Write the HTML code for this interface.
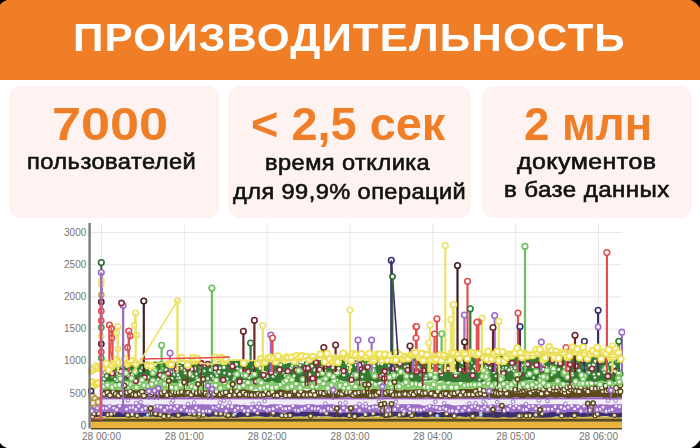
<!DOCTYPE html>
<html><head><meta charset="utf-8">
<style>
html,body{margin:0;padding:0;}
body{width:700px;height:448px;overflow:hidden;background:#fff;position:relative;font-family:"Liberation Sans",sans-serif;}
.hdr{position:absolute;left:0;top:0;width:700px;height:80px;background:#EF7E27;}
.card{position:absolute;top:86px;height:131.5px;background:#FEF3F1;border-radius:12px;}
.t{position:absolute;white-space:nowrap;transform-origin:0 0;}
.h{color:#fff;font-weight:bold;font-size:38px;line-height:40px;letter-spacing:1px;}
.b{color:#EF7E27;font-weight:bold;font-size:47px;line-height:46px;letter-spacing:0px;}
.s{color:#111;font-size:22px;line-height:22px;letter-spacing:0.4px;-webkit-text-stroke:0.6px #111;}
svg{position:absolute;left:0;top:0;}
</style></head><body>
<div class="hdr"></div>
<div class="card" style="left:9px;width:210px;"></div>
<div class="card" style="left:228px;width:243px;"></div>
<div class="card" style="left:482px;width:210px;"></div>
<div class="t h" style="left:72.78px;top:18px;transform:scaleX(1.1116)">ПРОИЗВОДИТЕЛЬНОСТЬ</div>
<div class="t b" style="left:52.31px;top:100.5px;transform:scaleX(1.1109)">7000</div>
<div class="t b" style="left:250.50px;top:100.5px;transform:scaleX(0.9979)">&lt; 2,5 сек</div>
<div class="t b" style="left:524.03px;top:100.5px;transform:scaleX(0.9703)">2 млн</div>
<div class="t s" style="left:26.92px;top:151px;transform:scaleX(1.0774)">пользователей</div>
<div class="t s" style="left:264.96px;top:152px;transform:scaleX(1.0745)">время отклика</div>
<div class="t s" style="left:232.52px;top:181px;transform:scaleX(1.0722)">для 99,9% операций</div>
<div class="t s" style="left:517.49px;top:151px;transform:scaleX(1.1344)">документов</div>
<div class="t s" style="left:504.38px;top:179px;transform:scaleX(1.0947)">в базе данных</div>
<svg width="700" height="448" viewBox="0 0 700 448"><defs><filter id="bl" x="0" y="0" width="1" height="1"><feGaussianBlur stdDeviation="0.45"/></filter></defs>
  <g stroke="#e8e8e8" stroke-width="1">
    <line x1="90" y1="232.5" x2="622" y2="232.5"/>
    <line x1="90" y1="264.7" x2="622" y2="264.7"/>
    <line x1="90" y1="296.9" x2="622" y2="296.9"/>
    <line x1="90" y1="329.1" x2="622" y2="329.1"/>
    <line x1="90" y1="361.3" x2="622" y2="361.3"/>
    <line x1="90" y1="393.5" x2="622" y2="393.5"/>
    <line x1="101.5" y1="223" x2="101.5" y2="428"/>
    <line x1="184.3" y1="223" x2="184.3" y2="428"/>
    <line x1="267.1" y1="223" x2="267.1" y2="428"/>
    <line x1="350" y1="223" x2="350" y2="428"/>
    <line x1="432.8" y1="223" x2="432.8" y2="428"/>
    <line x1="515.7" y1="223" x2="515.7" y2="428"/>
    <line x1="598.5" y1="223" x2="598.5" y2="428"/>
  </g>
  <g filter="url(#bl)">
<rect x="91" y="421.6" width="531" height="6.5" fill="#E9B43A"/>
<rect x="91" y="428" width="531" height="1.5" fill="#5a4a22"/>
<rect x="91" y="416.3" width="531" height="2.5" fill="#CDB846"/>
<rect x="91" y="418.7" width="531" height="3" fill="#5C4A1E"/>
<polygon points="91.0,411.4 94.0,411.6 97.0,412.2 100.0,411.8 103.0,411.7 106.0,411.7 109.0,411.1 112.0,411.3 115.0,411.6 118.0,412.0 121.0,411.1 124.0,411.0 127.0,410.6 130.0,411.5 133.0,411.8 136.0,410.9 139.0,412.0 142.0,412.5 145.0,412.2 148.0,412.1 151.0,411.2 154.0,410.6 157.0,411.1 160.0,410.6 163.0,410.5 166.0,410.6 169.0,410.3 172.0,410.8 175.0,411.1 178.0,411.8 181.0,411.7 184.0,411.8 187.0,411.7 190.0,411.8 193.0,411.6 196.0,411.2 199.0,412.1 202.0,412.6 205.0,412.6 208.0,412.4 211.0,411.6 214.0,411.1 217.0,411.0 220.0,410.6 223.0,411.5 226.0,411.3 229.0,412.0 232.0,411.5 235.0,412.3 238.0,412.4 241.0,411.2 244.0,410.9 247.0,411.8 250.0,411.6 253.0,412.3 256.0,411.8 259.0,410.9 262.0,411.4 265.0,411.9 268.0,411.3 271.0,410.8 274.0,410.9 277.0,411.9 280.0,412.1 283.0,411.2 286.0,410.9 289.0,410.6 292.0,410.3 295.0,411.4 298.0,410.9 301.0,411.3 304.0,411.3 307.0,410.9 310.0,411.6 313.0,410.9 316.0,411.5 319.0,410.9 322.0,411.1 325.0,410.8 328.0,410.8 331.0,411.9 334.0,412.2 337.0,411.5 340.0,412.1 343.0,411.4 346.0,411.3 349.0,411.9 352.0,411.9 355.0,411.1 358.0,412.1 361.0,411.3 364.0,411.0 367.0,411.7 370.0,411.3 373.0,411.1 376.0,410.6 379.0,410.4 382.0,411.1 385.0,410.9 388.0,411.4 391.0,411.2 394.0,411.3 397.0,412.1 400.0,411.8 403.0,411.8 406.0,412.2 409.0,411.4 412.0,410.9 415.0,411.8 418.0,412.2 421.0,411.4 424.0,411.0 427.0,411.6 430.0,412.3 433.0,411.4 436.0,412.2 439.0,412.4 442.0,412.1 445.0,411.7 448.0,411.0 451.0,410.5 454.0,411.7 457.0,411.2 460.0,411.7 463.0,411.2 466.0,411.9 469.0,411.8 472.0,411.3 475.0,410.9 478.0,411.6 481.0,410.8 484.0,410.7 487.0,411.2 490.0,411.9 493.0,411.9 496.0,411.3 499.0,412.1 502.0,411.3 505.0,410.6 508.0,410.7 511.0,411.0 514.0,410.6 517.0,410.5 520.0,410.8 523.0,411.3 526.0,410.8 529.0,410.9 532.0,411.8 535.0,412.4 538.0,412.2 541.0,412.2 544.0,412.0 547.0,411.2 550.0,410.6 553.0,410.3 556.0,411.5 559.0,411.8 562.0,412.4 565.0,411.2 568.0,411.6 571.0,411.5 574.0,411.9 577.0,411.4 580.0,412.2 583.0,411.2 586.0,411.4 589.0,411.8 592.0,412.3 595.0,412.3 598.0,412.2 601.0,412.3 604.0,412.6 607.0,411.8 610.0,411.9 613.0,412.4 616.0,412.5 619.0,411.9 622.0,412.2 622.0,417.0 619.0,417.6 616.0,417.2 613.0,417.1 610.0,416.7 607.0,416.1 604.0,416.0 601.0,416.3 598.0,416.9 595.0,416.4 592.0,416.5 589.0,416.4 586.0,416.8 583.0,417.0 580.0,416.7 577.0,416.4 574.0,417.1 571.0,417.1 568.0,417.2 565.0,417.2 562.0,416.3 559.0,416.4 556.0,416.3 553.0,417.0 550.0,417.5 547.0,417.4 544.0,417.8 541.0,417.7 538.0,417.5 535.0,417.4 532.0,416.8 529.0,416.2 526.0,417.0 523.0,417.0 520.0,416.6 517.0,416.8 514.0,417.3 511.0,417.6 508.0,417.5 505.0,417.1 502.0,417.1 499.0,417.7 496.0,417.8 493.0,417.6 490.0,417.2 487.0,417.2 484.0,417.3 481.0,416.5 478.0,416.5 475.0,416.9 472.0,417.2 469.0,416.4 466.0,417.1 463.0,416.8 460.0,416.3 457.0,416.4 454.0,416.6 451.0,417.3 448.0,417.2 445.0,417.1 442.0,417.4 439.0,416.7 436.0,417.2 433.0,416.5 430.0,416.7 427.0,417.6 424.0,417.3 421.0,416.5 418.0,417.0 415.0,416.8 412.0,416.8 409.0,416.7 406.0,417.3 403.0,417.4 400.0,417.0 397.0,416.3 394.0,416.4 391.0,417.3 388.0,417.7 385.0,417.3 382.0,416.4 379.0,415.7 376.0,415.9 373.0,416.4 370.0,416.6 367.0,416.9 364.0,416.3 361.0,416.4 358.0,417.5 355.0,417.0 352.0,416.4 349.0,416.9 346.0,417.3 343.0,416.7 340.0,417.5 337.0,417.0 334.0,417.3 331.0,416.5 328.0,416.2 325.0,416.2 322.0,416.4 319.0,416.1 316.0,416.7 313.0,416.3 310.0,416.2 307.0,416.2 304.0,416.8 301.0,416.3 298.0,416.6 295.0,416.4 292.0,417.0 289.0,416.5 286.0,416.5 283.0,416.4 280.0,416.8 277.0,416.8 274.0,417.0 271.0,416.2 268.0,417.0 265.0,417.1 262.0,416.6 259.0,416.3 256.0,416.2 253.0,416.4 250.0,417.1 247.0,417.0 244.0,416.7 241.0,417.0 238.0,417.5 235.0,417.8 232.0,417.4 229.0,416.7 226.0,416.1 223.0,416.6 220.0,416.8 217.0,416.8 214.0,416.6 211.0,416.7 208.0,416.9 205.0,416.0 202.0,416.2 199.0,416.8 196.0,416.3 193.0,416.7 190.0,416.2 187.0,416.2 184.0,416.6 181.0,416.7 178.0,417.6 175.0,417.2 172.0,416.3 169.0,416.9 166.0,416.9 163.0,415.9 160.0,416.3 157.0,417.2 154.0,416.6 151.0,416.6 148.0,416.8 145.0,416.3 142.0,417.0 139.0,416.3 136.0,417.1 133.0,416.2 130.0,416.6 127.0,416.5 124.0,417.1 121.0,417.0 118.0,417.1 115.0,417.1 112.0,416.9 109.0,416.2 106.0,416.2 103.0,415.9 100.0,416.5 97.0,417.1 94.0,417.0 91.0,416.8" fill="#3B2F70"/>
<g fill="#EDE8DC" stroke="#5C4A1C" stroke-width="1.1"><circle cx="228.5" cy="415.2" r="2.1"/><circle cx="454.2" cy="415.9" r="2.1"/><circle cx="189.6" cy="413.4" r="2.1"/><circle cx="169.1" cy="413.4" r="2.1"/><circle cx="480.8" cy="413.0" r="2.1"/><circle cx="373.1" cy="413.4" r="2.1"/><circle cx="247.5" cy="414.2" r="2.1"/><circle cx="535.8" cy="414.9" r="2.1"/><circle cx="98.7" cy="413.6" r="2.1"/><circle cx="168.9" cy="416.0" r="2.1"/><circle cx="521.0" cy="415.7" r="2.1"/><circle cx="529.8" cy="415.5" r="2.1"/><circle cx="595.1" cy="415.7" r="2.1"/><circle cx="227.3" cy="415.9" r="2.1"/><circle cx="349.5" cy="415.5" r="2.1"/><circle cx="390.6" cy="414.2" r="2.1"/><circle cx="284.4" cy="414.2" r="2.1"/><circle cx="257.6" cy="413.0" r="2.1"/><circle cx="526.2" cy="415.7" r="2.1"/><circle cx="614.4" cy="415.3" r="2.1"/><circle cx="385.3" cy="415.5" r="2.1"/><circle cx="162.6" cy="415.2" r="2.1"/><circle cx="326.4" cy="413.2" r="2.1"/><circle cx="198.6" cy="414.6" r="2.1"/><circle cx="225.5" cy="414.3" r="2.1"/><circle cx="412.5" cy="414.1" r="2.1"/><circle cx="160.4" cy="414.5" r="2.1"/><circle cx="216.0" cy="413.4" r="2.1"/><circle cx="194.3" cy="414.0" r="2.1"/><circle cx="129.9" cy="415.1" r="2.1"/><circle cx="597.4" cy="414.1" r="2.1"/><circle cx="472.7" cy="416.2" r="2.1"/><circle cx="113.9" cy="413.1" r="2.1"/><circle cx="519.0" cy="415.9" r="2.1"/><circle cx="430.3" cy="413.1" r="2.1"/><circle cx="310.6" cy="416.0" r="2.1"/><circle cx="561.6" cy="415.7" r="2.1"/><circle cx="198.8" cy="415.9" r="2.1"/><circle cx="290.0" cy="415.4" r="2.1"/><circle cx="163.8" cy="416.4" r="2.1"/><circle cx="411.5" cy="415.4" r="2.1"/><circle cx="203.4" cy="415.0" r="2.1"/><circle cx="399.4" cy="414.9" r="2.1"/><circle cx="281.8" cy="415.4" r="2.1"/><circle cx="272.2" cy="413.7" r="2.1"/><circle cx="178.3" cy="415.2" r="2.1"/><circle cx="150.6" cy="413.4" r="2.1"/><circle cx="127.7" cy="415.1" r="2.1"/><circle cx="386.3" cy="414.7" r="2.1"/><circle cx="111.6" cy="414.3" r="2.1"/><circle cx="273.2" cy="412.9" r="2.1"/><circle cx="92.6" cy="416.5" r="2.1"/><circle cx="155.5" cy="413.7" r="2.1"/><circle cx="233.8" cy="414.9" r="2.1"/><circle cx="132.1" cy="414.4" r="2.1"/><circle cx="285.7" cy="415.8" r="2.1"/><circle cx="94.0" cy="413.8" r="2.1"/><circle cx="354.7" cy="416.4" r="2.1"/><circle cx="365.4" cy="414.4" r="2.1"/><circle cx="446.5" cy="413.7" r="2.1"/><circle cx="107.9" cy="414.5" r="2.1"/><circle cx="574.4" cy="415.5" r="2.1"/><circle cx="228.2" cy="415.2" r="2.1"/><circle cx="541.9" cy="413.5" r="2.1"/><circle cx="403.2" cy="413.9" r="2.1"/><circle cx="220.7" cy="413.6" r="2.1"/><circle cx="199.2" cy="413.9" r="2.1"/><circle cx="111.2" cy="414.1" r="2.1"/><circle cx="137.1" cy="415.5" r="2.1"/><circle cx="409.5" cy="412.5" r="2.1"/></g>
<g fill="#DDEEF8" stroke="#6FB0D8" stroke-width="1.0"><circle cx="147.7" cy="415.0" r="1.5"/><circle cx="437.2" cy="415.8" r="1.5"/><circle cx="235.0" cy="413.4" r="1.5"/><circle cx="480.8" cy="414.8" r="1.5"/></g>
<polygon points="91.0,403.8 94.0,404.5 97.0,404.8 100.0,404.6 103.0,404.0 106.0,404.8 109.0,405.3 112.0,404.9 115.0,404.7 118.0,404.1 121.0,403.3 124.0,403.6 127.0,404.2 130.0,403.5 133.0,404.6 136.0,404.0 139.0,403.7 142.0,403.2 145.0,404.8 148.0,405.1 151.0,405.6 154.0,405.3 157.0,404.0 160.0,403.9 163.0,404.2 166.0,403.6 169.0,404.9 172.0,404.5 175.0,403.8 178.0,404.8 181.0,403.9 184.0,405.1 187.0,404.7 190.0,404.7 193.0,404.3 196.0,404.4 199.0,403.8 202.0,403.2 205.0,404.6 208.0,404.0 211.0,404.8 214.0,404.1 217.0,405.2 220.0,405.7 223.0,405.6 226.0,405.6 229.0,405.2 232.0,405.3 235.0,404.1 238.0,404.3 241.0,405.0 244.0,404.2 247.0,405.2 250.0,405.6 253.0,404.9 256.0,404.4 259.0,404.4 262.0,404.2 265.0,405.3 268.0,404.7 271.0,403.7 274.0,403.3 277.0,404.3 280.0,405.4 283.0,404.9 286.0,404.7 289.0,404.7 292.0,405.1 295.0,404.2 298.0,404.6 301.0,404.7 304.0,404.8 307.0,404.0 310.0,403.6 313.0,403.7 316.0,405.0 319.0,404.4 322.0,404.7 325.0,404.2 328.0,403.6 331.0,403.2 334.0,404.5 337.0,405.0 340.0,404.5 343.0,404.9 346.0,405.0 349.0,405.6 352.0,406.0 355.0,405.0 358.0,405.7 361.0,406.0 364.0,405.5 367.0,405.7 370.0,405.1 373.0,404.6 376.0,404.0 379.0,405.0 382.0,404.1 385.0,403.4 388.0,404.6 391.0,405.1 394.0,404.8 397.0,405.3 400.0,404.0 403.0,403.8 406.0,403.7 409.0,403.9 412.0,403.6 415.0,403.2 418.0,403.5 421.0,404.8 424.0,405.6 427.0,405.6 430.0,405.0 433.0,404.2 436.0,405.3 439.0,404.9 442.0,405.2 445.0,403.9 448.0,403.6 451.0,404.7 454.0,405.2 457.0,405.6 460.0,405.3 463.0,404.7 466.0,404.8 469.0,405.3 472.0,404.5 475.0,404.6 478.0,404.1 481.0,404.8 484.0,403.7 487.0,404.5 490.0,405.4 493.0,404.0 496.0,404.4 499.0,404.8 502.0,405.3 505.0,405.1 508.0,404.3 511.0,404.2 514.0,405.3 517.0,405.7 520.0,404.4 523.0,403.6 526.0,403.2 529.0,402.9 532.0,403.6 535.0,403.3 538.0,404.7 541.0,404.9 544.0,403.9 547.0,404.3 550.0,404.0 553.0,404.3 556.0,403.8 559.0,403.5 562.0,403.4 565.0,403.7 568.0,404.5 571.0,404.6 574.0,403.6 577.0,404.5 580.0,405.2 583.0,405.4 586.0,405.5 589.0,404.0 592.0,404.2 595.0,403.5 598.0,404.5 601.0,403.9 604.0,404.6 607.0,404.1 610.0,404.7 613.0,404.2 616.0,403.4 619.0,403.7 622.0,403.7 622.0,412.3 619.0,413.3 616.0,412.9 613.0,412.6 610.0,412.3 607.0,412.3 604.0,411.4 601.0,411.7 598.0,411.9 595.0,412.5 592.0,412.8 589.0,412.2 586.0,412.7 583.0,412.9 580.0,412.4 577.0,411.7 574.0,412.2 571.0,411.8 568.0,411.7 565.0,412.9 562.0,412.5 559.0,411.7 556.0,411.7 553.0,412.3 550.0,412.2 547.0,413.1 544.0,412.9 541.0,412.0 538.0,411.4 535.0,412.2 532.0,411.3 529.0,411.8 526.0,411.5 523.0,412.2 520.0,411.9 517.0,411.7 514.0,412.6 511.0,412.5 508.0,411.5 505.0,412.0 502.0,411.2 499.0,411.5 496.0,411.6 493.0,411.9 490.0,412.4 487.0,412.7 484.0,412.4 481.0,411.8 478.0,411.8 475.0,411.4 472.0,411.6 469.0,412.6 466.0,411.9 463.0,411.9 460.0,413.1 457.0,412.9 454.0,412.3 451.0,411.6 448.0,411.5 445.0,411.7 442.0,411.3 439.0,411.6 436.0,411.8 433.0,412.4 430.0,411.4 427.0,411.4 424.0,411.5 421.0,412.1 418.0,412.5 415.0,411.3 412.0,411.8 409.0,412.1 406.0,412.2 403.0,411.6 400.0,412.0 397.0,412.3 394.0,412.1 391.0,411.9 388.0,413.2 385.0,412.7 382.0,412.9 379.0,412.7 376.0,412.2 373.0,412.7 370.0,412.8 367.0,412.6 364.0,413.0 361.0,413.1 358.0,412.4 355.0,412.4 352.0,412.6 349.0,412.9 346.0,412.5 343.0,413.0 340.0,412.5 337.0,411.7 334.0,411.6 331.0,412.4 328.0,411.9 325.0,412.5 322.0,412.4 319.0,411.7 316.0,411.1 313.0,411.5 310.0,411.8 307.0,411.8 304.0,411.9 301.0,412.1 298.0,411.8 295.0,412.5 292.0,411.6 289.0,412.3 286.0,412.7 283.0,413.2 280.0,412.8 277.0,412.0 274.0,412.1 271.0,412.2 268.0,412.7 265.0,411.6 262.0,412.4 259.0,412.4 256.0,412.1 253.0,412.3 250.0,412.2 247.0,411.9 244.0,412.3 241.0,412.0 238.0,412.3 235.0,413.0 232.0,412.4 229.0,412.1 226.0,412.3 223.0,412.3 220.0,412.4 217.0,411.3 214.0,411.8 211.0,411.3 208.0,411.9 205.0,412.7 202.0,412.6 199.0,412.0 196.0,412.9 193.0,413.2 190.0,412.7 187.0,412.2 184.0,412.9 181.0,412.1 178.0,412.7 175.0,412.9 172.0,412.9 169.0,413.4 166.0,413.1 163.0,413.0 160.0,412.5 157.0,412.5 154.0,411.6 151.0,412.1 148.0,412.6 145.0,412.7 142.0,411.9 139.0,413.0 136.0,413.2 133.0,412.9 130.0,413.0 127.0,412.4 124.0,412.2 121.0,412.8 118.0,412.0 115.0,412.7 112.0,411.9 109.0,412.1 106.0,411.4 103.0,411.9 100.0,412.6 97.0,411.3 94.0,412.0 91.0,412.9" fill="#9C6FC8"/>
<polyline points="91.7,411.0 94.8,406.2 97.5,408.1 100.6,406.4 103.3,408.2 106.6,408.2 109.4,406.2 113.7,408.1 116.6,409.8 119.6,406.0 123.5,409.0 126.5,409.2 130.2,407.7 133.0,407.8 135.9,409.4 138.7,406.2 142.2,409.7 145.5,408.2 148.8,406.7 151.3,407.5 155.5,406.8 157.6,406.3 160.7,407.2 164.7,410.3 167.5,407.8 170.7,407.4 174.6,408.8 177.0,406.3 181.1,409.7 184.3,407.0 187.1,410.8 190.3,411.0 192.9,411.2 195.9,408.0 199.0,410.2 203.3,411.2 206.7,411.0 209.5,411.2 213.0,407.6 216.6,407.8 218.5,406.1 222.1,406.8 226.1,411.0 228.1,406.3 231.8,406.7 235.1,410.3 237.8,408.1 242.0,408.2 244.3,410.7 248.3,410.7 251.3,408.0 254.5,410.3 257.6,407.0 260.3,408.0 264.2,408.8 267.1,410.3 269.6,409.2 273.1,408.8 277.1,407.1 280.5,406.1 283.1,408.7 285.8,408.8 289.4,408.2 292.9,405.7 295.6,410.1 298.4,410.6 301.7,409.5 304.9,408.2 308.5,406.2 312.1,408.4 315.3,408.7 318.3,408.6 321.1,410.7 323.9,410.6 328.4,408.5 331.4,409.5 334.4,407.3 337.1,407.7 340.3,411.1 343.5,407.9 346.9,410.3 350.2,408.8 353.0,407.3 355.9,406.9 359.4,410.5 363.0,406.3 366.1,406.4 369.5,408.2 373.2,407.2 376.4,407.1 379.8,409.3 381.5,410.2 385.0,407.7 388.0,410.4 391.1,409.8 394.8,409.5 397.9,406.1 402.1,409.4 404.1,411.2 408.5,406.7 410.2,409.1 413.6,409.8 417.4,409.7 420.7,410.0 424.3,409.1 427.1,407.5 429.6,406.2 434.0,406.9 436.5,407.5 440.0,408.7 443.6,408.1 446.0,409.3 449.8,410.9 452.3,410.7 456.6,411.2 458.4,407.8 462.6,410.4 464.7,407.9 469.0,409.9 471.9,406.9 474.9,406.0 477.9,408.1 481.9,409.0 484.5,407.1 487.5,409.5 490.9,406.7 494.7,408.9 498.1,408.7 500.8,408.1 504.0,410.8 507.8,409.4 510.1,406.1 513.9,407.9 516.4,406.0 519.1,407.9 523.8,409.8 526.5,409.4 529.0,406.6 532.8,406.1 535.9,408.6 539.1,406.4 541.5,408.4 544.8,409.3 548.3,409.2 552.2,409.1 555.1,406.8 558.0,411.2 561.0,407.3 564.6,408.8 568.3,407.4 571.7,405.8 574.7,408.9 578.0,406.6 580.9,411.0 584.1,406.3 587.7,411.1 589.6,410.3 592.7,406.2 597.1,409.7 600.5,409.2 603.0,407.2 606.3,411.3 609.6,410.6 612.1,409.8 616.2,406.1 619.5,406.7" fill="none" stroke="#9C6FC8" stroke-width="1.5"/>
<g fill="#F6F0FB" stroke="#9C6FC8" stroke-width="1.1"><circle cx="91.7" cy="411.0" r="2.0"/><circle cx="94.8" cy="406.2" r="2.0"/><circle cx="97.5" cy="408.1" r="2.0"/><circle cx="100.6" cy="406.4" r="2.0"/><circle cx="103.3" cy="408.2" r="2.0"/><circle cx="106.6" cy="408.2" r="2.0"/><circle cx="109.4" cy="406.2" r="2.0"/><circle cx="113.7" cy="408.1" r="2.0"/><circle cx="116.6" cy="409.8" r="2.0"/><circle cx="119.6" cy="406.0" r="2.0"/><circle cx="123.5" cy="409.0" r="2.0"/><circle cx="126.5" cy="409.2" r="2.0"/><circle cx="130.2" cy="407.7" r="2.0"/><circle cx="133.0" cy="407.8" r="2.0"/><circle cx="135.9" cy="409.4" r="2.0"/><circle cx="138.7" cy="406.2" r="2.0"/><circle cx="142.2" cy="409.7" r="2.0"/><circle cx="145.5" cy="408.2" r="2.0"/><circle cx="148.8" cy="406.7" r="2.0"/><circle cx="151.3" cy="407.5" r="2.0"/><circle cx="155.5" cy="406.8" r="2.0"/><circle cx="157.6" cy="406.3" r="2.0"/><circle cx="160.7" cy="407.2" r="2.0"/><circle cx="164.7" cy="410.3" r="2.0"/><circle cx="167.5" cy="407.8" r="2.0"/><circle cx="170.7" cy="407.4" r="2.0"/><circle cx="174.6" cy="408.8" r="2.0"/><circle cx="177.0" cy="406.3" r="2.0"/><circle cx="181.1" cy="409.7" r="2.0"/><circle cx="184.3" cy="407.0" r="2.0"/><circle cx="187.1" cy="410.8" r="2.0"/><circle cx="190.3" cy="411.0" r="2.0"/><circle cx="192.9" cy="411.2" r="2.0"/><circle cx="195.9" cy="408.0" r="2.0"/><circle cx="199.0" cy="410.2" r="2.0"/><circle cx="203.3" cy="411.2" r="2.0"/><circle cx="206.7" cy="411.0" r="2.0"/><circle cx="209.5" cy="411.2" r="2.0"/><circle cx="213.0" cy="407.6" r="2.0"/><circle cx="216.6" cy="407.8" r="2.0"/><circle cx="218.5" cy="406.1" r="2.0"/><circle cx="222.1" cy="406.8" r="2.0"/><circle cx="226.1" cy="411.0" r="2.0"/><circle cx="228.1" cy="406.3" r="2.0"/><circle cx="231.8" cy="406.7" r="2.0"/><circle cx="235.1" cy="410.3" r="2.0"/><circle cx="237.8" cy="408.1" r="2.0"/><circle cx="242.0" cy="408.2" r="2.0"/><circle cx="244.3" cy="410.7" r="2.0"/><circle cx="248.3" cy="410.7" r="2.0"/><circle cx="251.3" cy="408.0" r="2.0"/><circle cx="254.5" cy="410.3" r="2.0"/><circle cx="257.6" cy="407.0" r="2.0"/><circle cx="260.3" cy="408.0" r="2.0"/><circle cx="264.2" cy="408.8" r="2.0"/><circle cx="267.1" cy="410.3" r="2.0"/><circle cx="269.6" cy="409.2" r="2.0"/><circle cx="273.1" cy="408.8" r="2.0"/><circle cx="277.1" cy="407.1" r="2.0"/><circle cx="280.5" cy="406.1" r="2.0"/><circle cx="283.1" cy="408.7" r="2.0"/><circle cx="285.8" cy="408.8" r="2.0"/><circle cx="289.4" cy="408.2" r="2.0"/><circle cx="292.9" cy="405.7" r="2.0"/><circle cx="295.6" cy="410.1" r="2.0"/><circle cx="298.4" cy="410.6" r="2.0"/><circle cx="301.7" cy="409.5" r="2.0"/><circle cx="304.9" cy="408.2" r="2.0"/><circle cx="308.5" cy="406.2" r="2.0"/><circle cx="312.1" cy="408.4" r="2.0"/><circle cx="315.3" cy="408.7" r="2.0"/><circle cx="318.3" cy="408.6" r="2.0"/><circle cx="321.1" cy="410.7" r="2.0"/><circle cx="323.9" cy="410.6" r="2.0"/><circle cx="328.4" cy="408.5" r="2.0"/><circle cx="331.4" cy="409.5" r="2.0"/><circle cx="334.4" cy="407.3" r="2.0"/><circle cx="337.1" cy="407.7" r="2.0"/><circle cx="340.3" cy="411.1" r="2.0"/><circle cx="343.5" cy="407.9" r="2.0"/><circle cx="346.9" cy="410.3" r="2.0"/><circle cx="350.2" cy="408.8" r="2.0"/><circle cx="353.0" cy="407.3" r="2.0"/><circle cx="355.9" cy="406.9" r="2.0"/><circle cx="359.4" cy="410.5" r="2.0"/><circle cx="363.0" cy="406.3" r="2.0"/><circle cx="366.1" cy="406.4" r="2.0"/><circle cx="369.5" cy="408.2" r="2.0"/><circle cx="373.2" cy="407.2" r="2.0"/><circle cx="376.4" cy="407.1" r="2.0"/><circle cx="379.8" cy="409.3" r="2.0"/><circle cx="381.5" cy="410.2" r="2.0"/><circle cx="385.0" cy="407.7" r="2.0"/><circle cx="388.0" cy="410.4" r="2.0"/><circle cx="391.1" cy="409.8" r="2.0"/><circle cx="394.8" cy="409.5" r="2.0"/><circle cx="397.9" cy="406.1" r="2.0"/><circle cx="402.1" cy="409.4" r="2.0"/><circle cx="404.1" cy="411.2" r="2.0"/><circle cx="408.5" cy="406.7" r="2.0"/><circle cx="410.2" cy="409.1" r="2.0"/><circle cx="413.6" cy="409.8" r="2.0"/><circle cx="417.4" cy="409.7" r="2.0"/><circle cx="420.7" cy="410.0" r="2.0"/><circle cx="424.3" cy="409.1" r="2.0"/><circle cx="427.1" cy="407.5" r="2.0"/><circle cx="429.6" cy="406.2" r="2.0"/><circle cx="434.0" cy="406.9" r="2.0"/><circle cx="436.5" cy="407.5" r="2.0"/><circle cx="440.0" cy="408.7" r="2.0"/><circle cx="443.6" cy="408.1" r="2.0"/><circle cx="446.0" cy="409.3" r="2.0"/><circle cx="449.8" cy="410.9" r="2.0"/><circle cx="452.3" cy="410.7" r="2.0"/><circle cx="456.6" cy="411.2" r="2.0"/><circle cx="458.4" cy="407.8" r="2.0"/><circle cx="462.6" cy="410.4" r="2.0"/><circle cx="464.7" cy="407.9" r="2.0"/><circle cx="469.0" cy="409.9" r="2.0"/><circle cx="471.9" cy="406.9" r="2.0"/><circle cx="474.9" cy="406.0" r="2.0"/><circle cx="477.9" cy="408.1" r="2.0"/><circle cx="481.9" cy="409.0" r="2.0"/><circle cx="484.5" cy="407.1" r="2.0"/><circle cx="487.5" cy="409.5" r="2.0"/><circle cx="490.9" cy="406.7" r="2.0"/><circle cx="494.7" cy="408.9" r="2.0"/><circle cx="498.1" cy="408.7" r="2.0"/><circle cx="500.8" cy="408.1" r="2.0"/><circle cx="504.0" cy="410.8" r="2.0"/><circle cx="507.8" cy="409.4" r="2.0"/><circle cx="510.1" cy="406.1" r="2.0"/><circle cx="513.9" cy="407.9" r="2.0"/><circle cx="516.4" cy="406.0" r="2.0"/><circle cx="519.1" cy="407.9" r="2.0"/><circle cx="523.8" cy="409.8" r="2.0"/><circle cx="526.5" cy="409.4" r="2.0"/><circle cx="529.0" cy="406.6" r="2.0"/><circle cx="532.8" cy="406.1" r="2.0"/><circle cx="535.9" cy="408.6" r="2.0"/><circle cx="539.1" cy="406.4" r="2.0"/><circle cx="541.5" cy="408.4" r="2.0"/><circle cx="544.8" cy="409.3" r="2.0"/><circle cx="548.3" cy="409.2" r="2.0"/><circle cx="552.2" cy="409.1" r="2.0"/><circle cx="555.1" cy="406.8" r="2.0"/><circle cx="558.0" cy="411.2" r="2.0"/><circle cx="561.0" cy="407.3" r="2.0"/><circle cx="564.6" cy="408.8" r="2.0"/><circle cx="568.3" cy="407.4" r="2.0"/><circle cx="571.7" cy="405.8" r="2.0"/><circle cx="574.7" cy="408.9" r="2.0"/><circle cx="578.0" cy="406.6" r="2.0"/><circle cx="580.9" cy="411.0" r="2.0"/><circle cx="584.1" cy="406.3" r="2.0"/><circle cx="587.7" cy="411.1" r="2.0"/><circle cx="589.6" cy="410.3" r="2.0"/><circle cx="592.7" cy="406.2" r="2.0"/><circle cx="597.1" cy="409.7" r="2.0"/><circle cx="600.5" cy="409.2" r="2.0"/><circle cx="603.0" cy="407.2" r="2.0"/><circle cx="606.3" cy="411.3" r="2.0"/><circle cx="609.6" cy="410.6" r="2.0"/><circle cx="612.1" cy="409.8" r="2.0"/><circle cx="616.2" cy="406.1" r="2.0"/><circle cx="619.5" cy="406.7" r="2.0"/></g>
<rect x="91" y="399.2" width="531" height="5" fill="#F2EEF8"/>
<g fill="#FFFFFF" stroke="#9C6FC8" stroke-width="1.0"><circle cx="469.3" cy="403.4" r="1.8"/><circle cx="188.0" cy="404.0" r="1.8"/><circle cx="194.1" cy="402.7" r="1.8"/><circle cx="139.7" cy="403.0" r="1.8"/><circle cx="171.3" cy="402.8" r="1.8"/><circle cx="475.7" cy="403.1" r="1.8"/><circle cx="325.4" cy="403.5" r="1.8"/><circle cx="615.6" cy="400.5" r="1.8"/><circle cx="365.5" cy="403.8" r="1.8"/><circle cx="483.5" cy="401.8" r="1.8"/><circle cx="252.7" cy="403.8" r="1.8"/><circle cx="136.2" cy="403.0" r="1.8"/><circle cx="538.8" cy="400.6" r="1.8"/><circle cx="264.6" cy="401.2" r="1.8"/><circle cx="378.8" cy="401.5" r="1.8"/><circle cx="565.5" cy="403.7" r="1.8"/><circle cx="258.9" cy="403.6" r="1.8"/><circle cx="128.0" cy="400.4" r="1.8"/><circle cx="444.2" cy="403.2" r="1.8"/><circle cx="526.0" cy="404.0" r="1.8"/><circle cx="547.5" cy="401.1" r="1.8"/><circle cx="485.4" cy="403.7" r="1.8"/><circle cx="140.7" cy="402.0" r="1.8"/><circle cx="172.9" cy="400.6" r="1.8"/><circle cx="345.6" cy="402.7" r="1.8"/><circle cx="608.1" cy="400.5" r="1.8"/><circle cx="359.4" cy="404.0" r="1.8"/><circle cx="497.2" cy="402.1" r="1.8"/><circle cx="219.8" cy="402.5" r="1.8"/><circle cx="229.6" cy="402.6" r="1.8"/><circle cx="435.5" cy="401.6" r="1.8"/><circle cx="513.0" cy="401.6" r="1.8"/><circle cx="340.0" cy="403.3" r="1.8"/><circle cx="224.0" cy="400.7" r="1.8"/><circle cx="396.0" cy="401.7" r="1.8"/></g>
<rect x="91" y="397.2" width="531" height="2.2" fill="#9462BC"/>
<polygon points="103.0,388.6 106.0,388.3 109.0,388.7 112.0,389.5 115.0,388.8 118.0,388.4 121.0,388.5 124.0,389.5 127.0,388.9 130.0,389.7 133.0,390.0 136.0,389.0 139.0,389.4 142.0,389.4 145.0,389.3 148.0,390.4 151.0,389.2 154.0,388.4 157.0,389.9 160.0,389.5 163.0,388.9 166.0,388.9 169.0,388.9 172.0,390.2 175.0,389.3 178.0,388.8 181.0,389.4 184.0,389.5 187.0,390.4 190.0,390.7 193.0,389.8 196.0,389.1 199.0,390.0 202.0,390.7 205.0,389.2 208.0,389.8 211.0,390.4 214.0,390.3 217.0,389.3 220.0,390.0 223.0,390.2 226.0,389.2 229.0,389.6 232.0,389.0 235.0,388.3 238.0,388.6 241.0,388.7 244.0,388.9 247.0,389.5 250.0,390.1 253.0,390.7 256.0,391.0 259.0,391.2 262.0,390.9 265.0,389.8 268.0,389.0 271.0,389.5 274.0,389.5 277.0,389.8 280.0,388.8 283.0,388.5 286.0,389.8 289.0,389.8 292.0,390.0 295.0,388.9 298.0,389.0 301.0,390.0 304.0,390.0 307.0,390.7 310.0,389.5 313.0,389.3 316.0,390.0 319.0,389.6 322.0,390.1 325.0,389.9 328.0,388.9 331.0,388.3 334.0,389.8 337.0,388.9 340.0,388.5 343.0,388.6 346.0,389.4 349.0,390.1 352.0,389.7 355.0,389.5 358.0,390.0 361.0,389.3 364.0,389.1 367.0,389.4 370.0,389.7 373.0,388.6 376.0,388.2 379.0,388.1 382.0,389.2 385.0,389.6 388.0,390.4 391.0,390.4 394.0,389.4 397.0,389.9 400.0,390.6 403.0,389.7 406.0,388.5 409.0,388.7 412.0,388.6 415.0,388.3 418.0,387.9 421.0,387.9 424.0,389.3 427.0,388.4 430.0,389.1 433.0,388.6 436.0,388.3 439.0,389.5 442.0,389.0 445.0,388.5 448.0,388.8 451.0,389.4 454.0,389.3 457.0,389.8 460.0,389.1 463.0,388.9 466.0,389.1 469.0,388.7 472.0,388.9 475.0,388.4 478.0,387.5 481.0,386.9 484.0,387.9 487.0,388.3 490.0,388.8 493.0,388.5 496.0,388.0 499.0,386.9 502.0,387.7 505.0,386.5 508.0,386.5 511.0,385.9 514.0,386.0 517.0,385.8 520.0,385.9 523.0,386.5 526.0,386.4 529.0,385.7 532.0,386.4 535.0,386.6 538.0,386.8 541.0,385.2 544.0,385.6 547.0,386.3 550.0,385.3 553.0,384.6 556.0,385.5 559.0,384.9 562.0,384.6 565.0,385.3 568.0,384.6 571.0,383.9 574.0,383.5 577.0,383.4 580.0,384.1 583.0,383.6 586.0,384.2 589.0,382.9 592.0,382.6 595.0,383.1 598.0,383.0 601.0,383.0 604.0,383.7 607.0,382.7 610.0,381.9 613.0,381.2 616.0,381.6 619.0,381.4 622.0,381.6 622.0,397.5 619.0,397.3 616.0,397.6 613.0,398.1 610.0,398.0 607.0,397.5 604.0,397.7 601.0,397.1 598.0,397.1 595.0,396.9 592.0,397.1 589.0,397.1 586.0,397.2 583.0,397.3 580.0,397.7 577.0,397.7 574.0,397.6 571.0,397.7 568.0,398.0 565.0,397.6 562.0,397.1 559.0,397.3 556.0,397.7 553.0,397.4 550.0,397.1 547.0,397.6 544.0,397.9 541.0,397.9 538.0,397.3 535.0,397.7 532.0,397.7 529.0,397.4 526.0,397.6 523.0,398.2 520.0,397.9 517.0,397.1 514.0,397.3 511.0,397.9 508.0,398.1 505.0,397.6 502.0,397.5 499.0,398.2 496.0,398.2 493.0,398.1 490.0,397.6 487.0,397.7 484.0,397.0 481.0,397.2 478.0,397.6 475.0,397.4 472.0,397.8 469.0,397.3 466.0,398.0 463.0,397.5 460.0,397.6 457.0,397.6 454.0,398.2 451.0,397.9 448.0,397.2 445.0,397.3 442.0,397.7 439.0,398.0 436.0,397.9 433.0,397.9 430.0,397.7 427.0,397.0 424.0,397.4 421.0,397.9 418.0,397.3 415.0,398.0 412.0,397.7 409.0,398.1 406.0,397.7 403.0,397.8 400.0,397.8 397.0,397.5 394.0,398.0 391.0,397.5 388.0,397.0 385.0,397.2 382.0,397.1 379.0,397.3 376.0,397.3 373.0,397.9 370.0,398.3 367.0,398.1 364.0,397.7 361.0,398.1 358.0,398.1 355.0,397.7 352.0,397.6 349.0,396.8 346.0,396.9 343.0,397.3 340.0,397.4 337.0,397.9 334.0,398.0 331.0,397.8 328.0,397.7 325.0,397.8 322.0,397.3 319.0,397.7 316.0,397.4 313.0,397.4 310.0,397.7 307.0,397.8 304.0,398.0 301.0,398.3 298.0,398.2 295.0,397.9 292.0,398.2 289.0,397.8 286.0,397.6 283.0,396.8 280.0,396.9 277.0,397.1 274.0,397.3 271.0,397.1 268.0,397.1 265.0,397.5 262.0,397.0 259.0,397.3 256.0,397.8 253.0,397.6 250.0,397.8 247.0,397.4 244.0,397.2 241.0,397.7 238.0,397.9 235.0,397.3 232.0,397.2 229.0,397.4 226.0,397.5 223.0,397.9 220.0,398.0 217.0,397.8 214.0,397.8 211.0,397.9 208.0,397.8 205.0,397.4 202.0,397.8 199.0,397.1 196.0,397.0 193.0,397.0 190.0,396.7 187.0,396.8 184.0,396.9 181.0,397.1 178.0,397.3 175.0,397.8 172.0,397.0 169.0,397.2 166.0,397.6 163.0,398.3 160.0,398.1 157.0,397.9 154.0,397.5 151.0,396.9 148.0,397.3 145.0,397.7 142.0,397.2 139.0,397.8 136.0,398.2 133.0,398.1 130.0,397.8 127.0,397.9 124.0,397.5 121.0,397.3 118.0,397.9 115.0,397.7 112.0,397.8 109.0,397.2 106.0,397.1 103.0,397.2" fill="#5C4A1C"/>
<polyline points="104.1,394.1 107.4,392.5 110.0,395.3 113.4,392.1 115.8,394.0 118.5,395.6 121.4,393.2 125.0,394.1 126.9,392.6 130.1,391.4 133.2,394.6 135.8,395.1 139.5,393.7 142.0,391.7 143.9,395.7 147.2,392.2 151.0,394.6 152.7,392.7 155.8,392.4 158.3,393.6 161.7,393.0 164.4,391.7 167.1,395.2 171.1,393.7 173.0,391.9 175.9,392.6 178.7,392.4 181.8,392.1 185.4,393.3 188.1,392.8 191.1,394.8 193.6,391.5 196.8,392.9 200.1,391.7 203.2,391.2 205.6,393.2 208.1,395.2 211.6,391.9 214.2,394.0 216.4,391.6 220.2,394.5 222.8,393.1 225.8,392.3 229.3,395.6 231.6,391.2 234.3,394.8 237.1,391.6 239.8,394.4 243.4,392.5 246.3,394.6 249.7,395.0 251.8,394.9 255.5,395.1 258.1,393.8 260.6,395.0 263.7,394.4 266.0,391.6 268.9,393.8 272.3,392.0 274.6,395.5 277.3,395.4 281.3,393.8 284.6,394.2 285.9,395.4 289.5,395.3 293.0,391.8 294.7,391.2 298.7,394.8 300.8,391.6 303.9,394.8 307.4,395.1 310.6,394.6 313.3,391.2 314.9,395.1 318.8,392.6 320.9,392.6 324.1,393.4 327.2,392.0 329.5,392.0 332.5,391.6 335.9,391.7 339.4,393.6 341.7,394.0 344.3,391.2 346.9,392.6 350.3,392.3 353.1,394.9 355.5,393.2 359.0,392.4 362.5,392.1 364.3,391.8 368.7,392.7 370.2,395.6 373.9,395.5 376.3,394.8 378.8,392.2 382.9,393.5 385.8,392.9 388.8,391.4 391.3,391.9 393.5,395.1 396.8,394.8 399.5,394.4 403.4,394.0 405.2,394.1 409.2,394.8 411.3,392.9 413.7,394.6 416.7,392.1 419.4,391.8 422.8,393.3 425.4,393.0 429.2,391.5 431.1,393.5 435.2,395.3 437.6,391.5 441.0,395.6 443.9,393.5 446.0,393.8 449.6,395.6 452.0,393.3 454.6,393.4 457.9,392.2 460.6,395.0 463.2,391.9 466.2,394.7 469.1,394.5 473.0,394.6 475.7,391.4 478.0,394.3 480.6,393.2 484.5,394.6 486.6,390.8 488.9,391.7 492.7,391.4 496.0,393.1 498.6,393.8 501.0,393.0 504.0,391.3 506.5,393.5 510.6,389.9 513.2,390.0 515.7,391.2 519.3,391.6 521.6,391.2 524.1,390.7 526.7,389.6 530.4,392.8 533.5,390.6 536.9,389.7 538.9,390.8 541.4,393.7 545.1,389.8 547.2,392.9 550.4,390.5 553.2,390.5 556.5,390.4 559.4,389.2 562.3,391.5 564.8,392.8 568.7,391.7 570.8,389.4 574.0,389.9 576.2,391.0 579.1,391.4 582.9,388.4 585.6,389.2 588.0,391.5 591.9,389.6 594.5,389.7 597.7,388.8 600.2,388.3 602.9,391.3 606.4,391.3 608.7,389.6 611.7,390.6 614.6,390.9 617.7,391.8 620.4,391.5" fill="none" stroke="#5C4A1C" stroke-width="1.5"/>
<g fill="#F3EFE6" stroke="#5C4A1C" stroke-width="1.3"><circle cx="104.1" cy="394.1" r="2.4"/><circle cx="107.4" cy="392.5" r="2.4"/><circle cx="110.0" cy="395.3" r="2.4"/><circle cx="113.4" cy="392.1" r="2.4"/><circle cx="115.8" cy="394.0" r="2.4"/><circle cx="118.5" cy="395.6" r="2.4"/><circle cx="121.4" cy="393.2" r="2.4"/><circle cx="125.0" cy="394.1" r="2.4"/><circle cx="126.9" cy="392.6" r="2.4"/><circle cx="130.1" cy="391.4" r="2.4"/><circle cx="133.2" cy="394.6" r="2.4"/><circle cx="135.8" cy="395.1" r="2.4"/><circle cx="139.5" cy="393.7" r="2.4"/><circle cx="142.0" cy="391.7" r="2.4"/><circle cx="143.9" cy="395.7" r="2.4"/><circle cx="147.2" cy="392.2" r="2.4"/><circle cx="151.0" cy="394.6" r="2.4"/><circle cx="152.7" cy="392.7" r="2.4"/><circle cx="155.8" cy="392.4" r="2.4"/><circle cx="158.3" cy="393.6" r="2.4"/><circle cx="161.7" cy="393.0" r="2.4"/><circle cx="164.4" cy="391.7" r="2.4"/><circle cx="167.1" cy="395.2" r="2.4"/><circle cx="171.1" cy="393.7" r="2.4"/><circle cx="173.0" cy="391.9" r="2.4"/><circle cx="175.9" cy="392.6" r="2.4"/><circle cx="178.7" cy="392.4" r="2.4"/><circle cx="181.8" cy="392.1" r="2.4"/><circle cx="185.4" cy="393.3" r="2.4"/><circle cx="188.1" cy="392.8" r="2.4"/><circle cx="191.1" cy="394.8" r="2.4"/><circle cx="193.6" cy="391.5" r="2.4"/><circle cx="196.8" cy="392.9" r="2.4"/><circle cx="200.1" cy="391.7" r="2.4"/><circle cx="203.2" cy="391.2" r="2.4"/><circle cx="205.6" cy="393.2" r="2.4"/><circle cx="208.1" cy="395.2" r="2.4"/><circle cx="211.6" cy="391.9" r="2.4"/><circle cx="214.2" cy="394.0" r="2.4"/><circle cx="216.4" cy="391.6" r="2.4"/><circle cx="220.2" cy="394.5" r="2.4"/><circle cx="222.8" cy="393.1" r="2.4"/><circle cx="225.8" cy="392.3" r="2.4"/><circle cx="229.3" cy="395.6" r="2.4"/><circle cx="231.6" cy="391.2" r="2.4"/><circle cx="234.3" cy="394.8" r="2.4"/><circle cx="237.1" cy="391.6" r="2.4"/><circle cx="239.8" cy="394.4" r="2.4"/><circle cx="243.4" cy="392.5" r="2.4"/><circle cx="246.3" cy="394.6" r="2.4"/><circle cx="249.7" cy="395.0" r="2.4"/><circle cx="251.8" cy="394.9" r="2.4"/><circle cx="255.5" cy="395.1" r="2.4"/><circle cx="258.1" cy="393.8" r="2.4"/><circle cx="260.6" cy="395.0" r="2.4"/><circle cx="263.7" cy="394.4" r="2.4"/><circle cx="266.0" cy="391.6" r="2.4"/><circle cx="268.9" cy="393.8" r="2.4"/><circle cx="272.3" cy="392.0" r="2.4"/><circle cx="274.6" cy="395.5" r="2.4"/><circle cx="277.3" cy="395.4" r="2.4"/><circle cx="281.3" cy="393.8" r="2.4"/><circle cx="284.6" cy="394.2" r="2.4"/><circle cx="285.9" cy="395.4" r="2.4"/><circle cx="289.5" cy="395.3" r="2.4"/><circle cx="293.0" cy="391.8" r="2.4"/><circle cx="294.7" cy="391.2" r="2.4"/><circle cx="298.7" cy="394.8" r="2.4"/><circle cx="300.8" cy="391.6" r="2.4"/><circle cx="303.9" cy="394.8" r="2.4"/><circle cx="307.4" cy="395.1" r="2.4"/><circle cx="310.6" cy="394.6" r="2.4"/><circle cx="313.3" cy="391.2" r="2.4"/><circle cx="314.9" cy="395.1" r="2.4"/><circle cx="318.8" cy="392.6" r="2.4"/><circle cx="320.9" cy="392.6" r="2.4"/><circle cx="324.1" cy="393.4" r="2.4"/><circle cx="327.2" cy="392.0" r="2.4"/><circle cx="329.5" cy="392.0" r="2.4"/><circle cx="332.5" cy="391.6" r="2.4"/><circle cx="335.9" cy="391.7" r="2.4"/><circle cx="339.4" cy="393.6" r="2.4"/><circle cx="341.7" cy="394.0" r="2.4"/><circle cx="344.3" cy="391.2" r="2.4"/><circle cx="346.9" cy="392.6" r="2.4"/><circle cx="350.3" cy="392.3" r="2.4"/><circle cx="353.1" cy="394.9" r="2.4"/><circle cx="355.5" cy="393.2" r="2.4"/><circle cx="359.0" cy="392.4" r="2.4"/><circle cx="362.5" cy="392.1" r="2.4"/><circle cx="364.3" cy="391.8" r="2.4"/><circle cx="368.7" cy="392.7" r="2.4"/><circle cx="370.2" cy="395.6" r="2.4"/><circle cx="373.9" cy="395.5" r="2.4"/><circle cx="376.3" cy="394.8" r="2.4"/><circle cx="378.8" cy="392.2" r="2.4"/><circle cx="382.9" cy="393.5" r="2.4"/><circle cx="385.8" cy="392.9" r="2.4"/><circle cx="388.8" cy="391.4" r="2.4"/><circle cx="391.3" cy="391.9" r="2.4"/><circle cx="393.5" cy="395.1" r="2.4"/><circle cx="396.8" cy="394.8" r="2.4"/><circle cx="399.5" cy="394.4" r="2.4"/><circle cx="403.4" cy="394.0" r="2.4"/><circle cx="405.2" cy="394.1" r="2.4"/><circle cx="409.2" cy="394.8" r="2.4"/><circle cx="411.3" cy="392.9" r="2.4"/><circle cx="413.7" cy="394.6" r="2.4"/><circle cx="416.7" cy="392.1" r="2.4"/><circle cx="419.4" cy="391.8" r="2.4"/><circle cx="422.8" cy="393.3" r="2.4"/><circle cx="425.4" cy="393.0" r="2.4"/><circle cx="429.2" cy="391.5" r="2.4"/><circle cx="431.1" cy="393.5" r="2.4"/><circle cx="435.2" cy="395.3" r="2.4"/><circle cx="437.6" cy="391.5" r="2.4"/><circle cx="441.0" cy="395.6" r="2.4"/><circle cx="443.9" cy="393.5" r="2.4"/><circle cx="446.0" cy="393.8" r="2.4"/><circle cx="449.6" cy="395.6" r="2.4"/><circle cx="452.0" cy="393.3" r="2.4"/><circle cx="454.6" cy="393.4" r="2.4"/><circle cx="457.9" cy="392.2" r="2.4"/><circle cx="460.6" cy="395.0" r="2.4"/><circle cx="463.2" cy="391.9" r="2.4"/><circle cx="466.2" cy="394.7" r="2.4"/><circle cx="469.1" cy="394.5" r="2.4"/><circle cx="473.0" cy="394.6" r="2.4"/><circle cx="475.7" cy="391.4" r="2.4"/><circle cx="478.0" cy="394.3" r="2.4"/><circle cx="480.6" cy="393.2" r="2.4"/><circle cx="484.5" cy="394.6" r="2.4"/><circle cx="486.6" cy="390.8" r="2.4"/><circle cx="488.9" cy="391.7" r="2.4"/><circle cx="492.7" cy="391.4" r="2.4"/><circle cx="496.0" cy="393.1" r="2.4"/><circle cx="498.6" cy="393.8" r="2.4"/><circle cx="501.0" cy="393.0" r="2.4"/><circle cx="504.0" cy="391.3" r="2.4"/><circle cx="506.5" cy="393.5" r="2.4"/><circle cx="510.6" cy="389.9" r="2.4"/><circle cx="513.2" cy="390.0" r="2.4"/><circle cx="515.7" cy="391.2" r="2.4"/><circle cx="519.3" cy="391.6" r="2.4"/><circle cx="521.6" cy="391.2" r="2.4"/><circle cx="524.1" cy="390.7" r="2.4"/><circle cx="526.7" cy="389.6" r="2.4"/><circle cx="530.4" cy="392.8" r="2.4"/><circle cx="533.5" cy="390.6" r="2.4"/><circle cx="536.9" cy="389.7" r="2.4"/><circle cx="538.9" cy="390.8" r="2.4"/><circle cx="541.4" cy="393.7" r="2.4"/><circle cx="545.1" cy="389.8" r="2.4"/><circle cx="547.2" cy="392.9" r="2.4"/><circle cx="550.4" cy="390.5" r="2.4"/><circle cx="553.2" cy="390.5" r="2.4"/><circle cx="556.5" cy="390.4" r="2.4"/><circle cx="559.4" cy="389.2" r="2.4"/><circle cx="562.3" cy="391.5" r="2.4"/><circle cx="564.8" cy="392.8" r="2.4"/><circle cx="568.7" cy="391.7" r="2.4"/><circle cx="570.8" cy="389.4" r="2.4"/><circle cx="574.0" cy="389.9" r="2.4"/><circle cx="576.2" cy="391.0" r="2.4"/><circle cx="579.1" cy="391.4" r="2.4"/><circle cx="582.9" cy="388.4" r="2.4"/><circle cx="585.6" cy="389.2" r="2.4"/><circle cx="588.0" cy="391.5" r="2.4"/><circle cx="591.9" cy="389.6" r="2.4"/><circle cx="594.5" cy="389.7" r="2.4"/><circle cx="597.7" cy="388.8" r="2.4"/><circle cx="600.2" cy="388.3" r="2.4"/><circle cx="602.9" cy="391.3" r="2.4"/><circle cx="606.4" cy="391.3" r="2.4"/><circle cx="608.7" cy="389.6" r="2.4"/><circle cx="611.7" cy="390.6" r="2.4"/><circle cx="614.6" cy="390.9" r="2.4"/><circle cx="617.7" cy="391.8" r="2.4"/><circle cx="620.4" cy="391.5" r="2.4"/></g>
<g fill="#F3EFE6" stroke="#5C4A1C" stroke-width="1.3"><circle cx="480.0" cy="389.4" r="2.5"/><circle cx="484.0" cy="390.5" r="2.5"/><circle cx="487.6" cy="388.3" r="2.5"/><circle cx="491.2" cy="388.5" r="2.5"/><circle cx="493.7" cy="387.1" r="2.5"/><circle cx="497.5" cy="387.3" r="2.5"/><circle cx="500.6" cy="389.0" r="2.5"/><circle cx="504.9" cy="389.5" r="2.5"/><circle cx="507.3" cy="386.7" r="2.5"/><circle cx="511.1" cy="388.6" r="2.5"/><circle cx="515.5" cy="389.5" r="2.5"/><circle cx="519.2" cy="388.6" r="2.5"/><circle cx="522.2" cy="387.4" r="2.5"/><circle cx="525.2" cy="387.0" r="2.5"/><circle cx="529.1" cy="388.5" r="2.5"/><circle cx="532.6" cy="387.6" r="2.5"/><circle cx="535.9" cy="386.9" r="2.5"/><circle cx="540.0" cy="388.2" r="2.5"/><circle cx="543.4" cy="389.0" r="2.5"/><circle cx="546.1" cy="386.2" r="2.5"/><circle cx="549.7" cy="389.3" r="2.5"/><circle cx="554.0" cy="387.2" r="2.5"/><circle cx="557.4" cy="386.9" r="2.5"/><circle cx="561.1" cy="385.8" r="2.5"/><circle cx="564.4" cy="389.3" r="2.5"/><circle cx="567.4" cy="387.2" r="2.5"/><circle cx="570.4" cy="386.3" r="2.5"/><circle cx="574.1" cy="386.3" r="2.5"/><circle cx="577.3" cy="386.3" r="2.5"/><circle cx="580.9" cy="387.1" r="2.5"/><circle cx="584.9" cy="385.8" r="2.5"/><circle cx="589.2" cy="386.0" r="2.5"/><circle cx="592.1" cy="388.3" r="2.5"/><circle cx="595.9" cy="388.5" r="2.5"/><circle cx="599.2" cy="388.0" r="2.5"/><circle cx="601.8" cy="387.4" r="2.5"/><circle cx="605.7" cy="385.7" r="2.5"/><circle cx="609.9" cy="387.3" r="2.5"/><circle cx="612.7" cy="385.7" r="2.5"/><circle cx="616.1" cy="387.9" r="2.5"/><circle cx="620.2" cy="385.1" r="2.5"/></g>
<polygon points="104.0,380.7 107.0,380.2 110.0,379.8 113.0,381.4 116.0,381.4 119.0,381.6 122.0,381.5 125.0,380.9 128.0,381.5 131.0,381.4 134.0,381.9 137.0,381.8 140.0,382.2 143.0,381.5 146.0,380.4 149.0,379.9 152.0,381.0 155.0,380.2 158.0,381.0 161.0,381.3 164.0,380.1 167.0,381.2 170.0,380.0 173.0,381.4 176.0,382.0 179.0,380.8 182.0,381.5 185.0,381.8 188.0,380.5 191.0,381.2 194.0,380.2 197.0,381.6 200.0,381.7 203.0,382.5 206.0,380.7 209.0,380.4 212.0,381.0 215.0,381.3 218.0,380.4 221.0,381.6 224.0,382.1 227.0,381.1 230.0,380.2 233.0,381.0 236.0,380.8 239.0,381.3 242.0,381.1 245.0,380.8 248.0,379.8 251.0,379.5 254.0,380.2 257.0,381.1 260.0,380.9 263.0,381.5 266.0,381.4 269.0,382.1 272.0,381.9 275.0,381.0 278.0,380.1 281.0,379.5 284.0,379.2 287.0,381.0 290.0,381.9 293.0,382.0 296.0,380.6 299.0,381.2 302.0,380.2 305.0,381.5 308.0,381.6 311.0,381.9 314.0,381.7 317.0,381.2 320.0,381.9 323.0,382.6 326.0,381.2 329.0,380.9 332.0,381.5 335.0,381.7 338.0,381.1 341.0,380.9 344.0,382.1 347.0,381.0 350.0,380.3 353.0,381.1 356.0,380.5 359.0,381.7 362.0,380.9 365.0,382.0 368.0,381.2 371.0,382.0 374.0,382.1 377.0,382.1 380.0,380.9 383.0,380.1 386.0,379.4 389.0,379.5 392.0,380.6 395.0,379.8 398.0,379.8 401.0,380.5 404.0,379.9 407.0,380.1 410.0,379.9 413.0,380.9 416.0,380.0 419.0,381.7 422.0,381.6 425.0,381.8 428.0,381.5 431.0,381.3 434.0,382.3 437.0,382.6 440.0,382.6 443.0,380.7 446.0,381.0 449.0,382.1 452.0,381.9 455.0,381.5 458.0,381.6 461.0,380.5 464.0,381.3 467.0,381.8 470.0,380.4 473.0,380.7 476.0,381.1 479.0,380.7 482.0,381.3 485.0,382.2 488.0,382.6 491.0,381.3 494.0,380.3 497.0,381.5 500.0,381.5 503.0,382.1 506.0,382.4 509.0,381.2 512.0,381.3 515.0,380.7 518.0,381.6 521.0,381.7 524.0,380.7 527.0,380.9 530.0,381.2 533.0,380.4 536.0,380.0 539.0,380.4 542.0,379.7 545.0,380.3 548.0,381.7 551.0,382.1 554.0,380.5 557.0,381.5 560.0,381.8 563.0,381.9 566.0,380.3 569.0,381.3 572.0,380.4 575.0,381.4 578.0,380.8 581.0,380.6 584.0,379.8 587.0,381.1 590.0,380.1 593.0,381.1 596.0,380.6 599.0,379.5 602.0,380.0 605.0,379.9 608.0,378.6 611.0,379.8 614.0,379.0 617.0,377.9 620.0,379.1 620.0,382.4 617.0,382.6 614.0,382.8 611.0,382.1 608.0,382.5 605.0,383.0 602.0,382.7 599.0,383.1 596.0,384.0 593.0,383.9 590.0,383.3 587.0,383.7 584.0,383.3 581.0,383.7 578.0,383.9 575.0,384.3 572.0,384.2 569.0,384.2 566.0,384.5 563.0,385.1 560.0,385.3 557.0,385.7 554.0,385.8 551.0,385.2 548.0,385.4 545.0,386.0 542.0,385.7 539.0,385.6 536.0,386.1 533.0,386.5 530.0,386.0 527.0,386.4 524.0,386.3 521.0,386.3 518.0,387.1 515.0,386.9 512.0,386.4 509.0,386.9 506.0,387.0 503.0,387.9 500.0,387.6 497.0,387.1 494.0,387.8 491.0,388.4 488.0,388.4 485.0,388.2 482.0,387.4 479.0,387.8 476.0,387.9 473.0,388.8 470.0,389.1 467.0,388.9 464.0,389.1 461.0,388.7 458.0,389.4 455.0,389.5 452.0,389.5 449.0,390.1 446.0,389.8 443.0,389.1 440.0,389.5 437.0,389.6 434.0,390.2 431.0,390.0 428.0,389.3 425.0,389.2 422.0,389.1 419.0,389.6 416.0,389.3 413.0,389.7 410.0,389.8 407.0,389.7 404.0,389.3 401.0,390.3 398.0,390.2 395.0,389.8 392.0,389.9 389.0,389.2 386.0,389.0 383.0,389.6 380.0,389.8 377.0,389.3 374.0,388.7 371.0,388.8 368.0,389.2 365.0,389.8 362.0,390.0 359.0,389.3 356.0,389.7 353.0,390.0 350.0,389.5 347.0,389.2 344.0,389.5 341.0,389.2 338.0,389.4 335.0,389.8 332.0,390.1 329.0,389.6 326.0,389.8 323.0,389.7 320.0,390.2 317.0,389.8 314.0,389.0 311.0,389.1 308.0,389.1 305.0,389.1 302.0,389.6 299.0,390.3 296.0,390.2 293.0,390.0 290.0,389.9 287.0,390.0 284.0,390.1 281.0,389.3 278.0,389.3 275.0,389.8 272.0,389.4 269.0,389.9 266.0,390.0 263.0,389.9 260.0,389.1 257.0,389.2 254.0,389.4 251.0,389.4 248.0,389.5 245.0,389.0 242.0,388.9 239.0,389.0 236.0,388.9 233.0,389.2 230.0,389.2 227.0,389.4 224.0,390.1 221.0,390.1 218.0,390.3 215.0,390.1 212.0,390.2 209.0,389.9 206.0,389.9 203.0,390.4 200.0,390.0 197.0,390.2 194.0,390.2 191.0,389.9 188.0,389.8 185.0,389.0 182.0,389.2 179.0,389.7 176.0,390.1 173.0,389.3 170.0,389.7 167.0,390.1 164.0,389.9 161.0,389.3 158.0,390.1 155.0,389.7 152.0,389.4 149.0,389.7 146.0,389.6 143.0,389.0 140.0,389.0 137.0,389.4 134.0,389.1 131.0,389.1 128.0,389.6 125.0,389.6 122.0,390.4 119.0,390.0 116.0,389.8 113.0,389.2 110.0,389.3 107.0,389.3 104.0,390.0" fill="#8DCE74"/>
<polyline points="103.3,386.5 107.4,385.1 112.3,387.1 115.9,385.3 119.2,384.9 123.8,387.4 128.1,386.8 131.9,383.3 136.6,387.2 139.8,382.9 144.0,385.3 148.4,385.9 152.0,385.7 155.8,382.6 159.3,387.9 164.5,384.1 168.6,385.4 171.4,387.4 176.1,387.9 180.3,382.8 184.2,387.0 188.6,384.3 192.0,386.5 195.5,387.4 200.4,382.6 204.1,384.5 207.5,385.9 212.8,385.6 215.4,385.2 220.4,388.0 224.3,382.5 228.7,385.9 231.3,383.0 235.3,386.2 239.4,387.1 243.4,385.5 247.9,382.5 251.2,387.7 256.8,383.0 260.4,388.2 264.6,387.5 267.7,386.5 272.0,387.9 276.3,387.3 280.6,384.5 284.3,382.8 287.5,387.8 291.8,386.3 296.1,383.8 300.1,387.7 303.7,384.3 307.5,383.3 312.5,386.4 316.7,386.2 320.7,383.5 323.5,383.5 327.8,388.1 331.6,385.0 335.3,382.4 340.1,385.9 344.0,387.7 348.6,387.9 352.1,383.8 355.4,386.8 359.4,382.2 364.3,382.9 368.2,383.4 371.9,382.3 375.8,384.2 379.6,383.0 384.1,386.3 387.5,382.4 391.6,386.4 395.6,386.1 399.3,386.4 403.4,383.5 408.4,385.0 412.2,383.9 416.3,384.0 420.0,384.8 424.7,386.7 428.1,387.2 432.2,386.5 436.0,385.6 439.5,387.7 444.2,387.1 448.2,382.3 451.4,387.4 456.3,387.4 460.6,383.3 464.8,385.5 468.4,384.9 471.6,384.6 475.9,383.4 479.7,384.2 483.6,382.3 488.5,383.5 491.8,386.0 496.3,383.9 499.7,385.9 503.6,383.8 507.8,386.9 511.6,384.4 516.0,381.1 519.5,386.1 524.5,381.9 527.5,386.2 532.1,384.8 536.7,382.0 540.0,385.8 543.5,381.8 548.6,385.3 552.0,380.9 556.5,381.9 560.4,381.5 563.4,384.1 567.8,382.1 571.9,382.5 576.0,383.5 579.4,383.6 584.0,384.2 587.7,383.2 591.5,383.2 596.3,382.0 600.0,384.3 603.8,378.9 607.7,378.4 612.6,383.0 615.5,381.6 619.5,382.7" fill="none" stroke="#7CC462" stroke-width="1.2"/>
<g fill="#F2FAEE" stroke="#7CC462" stroke-width="1.4"><circle cx="103.3" cy="386.5" r="2.5"/><circle cx="107.4" cy="385.1" r="2.5"/><circle cx="112.3" cy="387.1" r="2.5"/><circle cx="115.9" cy="385.3" r="2.5"/><circle cx="119.2" cy="384.9" r="2.5"/><circle cx="123.8" cy="387.4" r="2.5"/><circle cx="128.1" cy="386.8" r="2.5"/><circle cx="131.9" cy="383.3" r="2.5"/><circle cx="136.6" cy="387.2" r="2.5"/><circle cx="139.8" cy="382.9" r="2.5"/><circle cx="144.0" cy="385.3" r="2.5"/><circle cx="148.4" cy="385.9" r="2.5"/><circle cx="152.0" cy="385.7" r="2.5"/><circle cx="155.8" cy="382.6" r="2.5"/><circle cx="159.3" cy="387.9" r="2.5"/><circle cx="164.5" cy="384.1" r="2.5"/><circle cx="168.6" cy="385.4" r="2.5"/><circle cx="171.4" cy="387.4" r="2.5"/><circle cx="176.1" cy="387.9" r="2.5"/><circle cx="180.3" cy="382.8" r="2.5"/><circle cx="184.2" cy="387.0" r="2.5"/><circle cx="188.6" cy="384.3" r="2.5"/><circle cx="192.0" cy="386.5" r="2.5"/><circle cx="195.5" cy="387.4" r="2.5"/><circle cx="200.4" cy="382.6" r="2.5"/><circle cx="204.1" cy="384.5" r="2.5"/><circle cx="207.5" cy="385.9" r="2.5"/><circle cx="212.8" cy="385.6" r="2.5"/><circle cx="215.4" cy="385.2" r="2.5"/><circle cx="220.4" cy="388.0" r="2.5"/><circle cx="224.3" cy="382.5" r="2.5"/><circle cx="228.7" cy="385.9" r="2.5"/><circle cx="231.3" cy="383.0" r="2.5"/><circle cx="235.3" cy="386.2" r="2.5"/><circle cx="239.4" cy="387.1" r="2.5"/><circle cx="243.4" cy="385.5" r="2.5"/><circle cx="247.9" cy="382.5" r="2.5"/><circle cx="251.2" cy="387.7" r="2.5"/><circle cx="256.8" cy="383.0" r="2.5"/><circle cx="260.4" cy="388.2" r="2.5"/><circle cx="264.6" cy="387.5" r="2.5"/><circle cx="267.7" cy="386.5" r="2.5"/><circle cx="272.0" cy="387.9" r="2.5"/><circle cx="276.3" cy="387.3" r="2.5"/><circle cx="280.6" cy="384.5" r="2.5"/><circle cx="284.3" cy="382.8" r="2.5"/><circle cx="287.5" cy="387.8" r="2.5"/><circle cx="291.8" cy="386.3" r="2.5"/><circle cx="296.1" cy="383.8" r="2.5"/><circle cx="300.1" cy="387.7" r="2.5"/><circle cx="303.7" cy="384.3" r="2.5"/><circle cx="307.5" cy="383.3" r="2.5"/><circle cx="312.5" cy="386.4" r="2.5"/><circle cx="316.7" cy="386.2" r="2.5"/><circle cx="320.7" cy="383.5" r="2.5"/><circle cx="323.5" cy="383.5" r="2.5"/><circle cx="327.8" cy="388.1" r="2.5"/><circle cx="331.6" cy="385.0" r="2.5"/><circle cx="335.3" cy="382.4" r="2.5"/><circle cx="340.1" cy="385.9" r="2.5"/><circle cx="344.0" cy="387.7" r="2.5"/><circle cx="348.6" cy="387.9" r="2.5"/><circle cx="352.1" cy="383.8" r="2.5"/><circle cx="355.4" cy="386.8" r="2.5"/><circle cx="359.4" cy="382.2" r="2.5"/><circle cx="364.3" cy="382.9" r="2.5"/><circle cx="368.2" cy="383.4" r="2.5"/><circle cx="371.9" cy="382.3" r="2.5"/><circle cx="375.8" cy="384.2" r="2.5"/><circle cx="379.6" cy="383.0" r="2.5"/><circle cx="384.1" cy="386.3" r="2.5"/><circle cx="387.5" cy="382.4" r="2.5"/><circle cx="391.6" cy="386.4" r="2.5"/><circle cx="395.6" cy="386.1" r="2.5"/><circle cx="399.3" cy="386.4" r="2.5"/><circle cx="403.4" cy="383.5" r="2.5"/><circle cx="408.4" cy="385.0" r="2.5"/><circle cx="412.2" cy="383.9" r="2.5"/><circle cx="416.3" cy="384.0" r="2.5"/><circle cx="420.0" cy="384.8" r="2.5"/><circle cx="424.7" cy="386.7" r="2.5"/><circle cx="428.1" cy="387.2" r="2.5"/><circle cx="432.2" cy="386.5" r="2.5"/><circle cx="436.0" cy="385.6" r="2.5"/><circle cx="439.5" cy="387.7" r="2.5"/><circle cx="444.2" cy="387.1" r="2.5"/><circle cx="448.2" cy="382.3" r="2.5"/><circle cx="451.4" cy="387.4" r="2.5"/><circle cx="456.3" cy="387.4" r="2.5"/><circle cx="460.6" cy="383.3" r="2.5"/><circle cx="464.8" cy="385.5" r="2.5"/><circle cx="468.4" cy="384.9" r="2.5"/><circle cx="471.6" cy="384.6" r="2.5"/><circle cx="475.9" cy="383.4" r="2.5"/><circle cx="479.7" cy="384.2" r="2.5"/><circle cx="483.6" cy="382.3" r="2.5"/><circle cx="488.5" cy="383.5" r="2.5"/><circle cx="491.8" cy="386.0" r="2.5"/><circle cx="496.3" cy="383.9" r="2.5"/><circle cx="499.7" cy="385.9" r="2.5"/><circle cx="503.6" cy="383.8" r="2.5"/><circle cx="507.8" cy="386.9" r="2.5"/><circle cx="511.6" cy="384.4" r="2.5"/><circle cx="516.0" cy="381.1" r="2.5"/><circle cx="519.5" cy="386.1" r="2.5"/><circle cx="524.5" cy="381.9" r="2.5"/><circle cx="527.5" cy="386.2" r="2.5"/><circle cx="532.1" cy="384.8" r="2.5"/><circle cx="536.7" cy="382.0" r="2.5"/><circle cx="540.0" cy="385.8" r="2.5"/><circle cx="543.5" cy="381.8" r="2.5"/><circle cx="548.6" cy="385.3" r="2.5"/><circle cx="552.0" cy="380.9" r="2.5"/><circle cx="556.5" cy="381.9" r="2.5"/><circle cx="560.4" cy="381.5" r="2.5"/><circle cx="563.4" cy="384.1" r="2.5"/><circle cx="567.8" cy="382.1" r="2.5"/><circle cx="571.9" cy="382.5" r="2.5"/><circle cx="576.0" cy="383.5" r="2.5"/><circle cx="579.4" cy="383.6" r="2.5"/><circle cx="584.0" cy="384.2" r="2.5"/><circle cx="587.7" cy="383.2" r="2.5"/><circle cx="591.5" cy="383.2" r="2.5"/><circle cx="596.3" cy="382.0" r="2.5"/><circle cx="600.0" cy="384.3" r="2.5"/><circle cx="603.8" cy="378.9" r="2.5"/><circle cx="607.7" cy="378.4" r="2.5"/><circle cx="612.6" cy="383.0" r="2.5"/><circle cx="615.5" cy="381.6" r="2.5"/><circle cx="619.5" cy="382.7" r="2.5"/></g>
<polygon points="104.0,363.0 107.0,363.4 110.0,362.2 113.0,364.2 116.0,362.9 119.0,363.4 122.0,365.1 125.0,363.8 128.0,365.4 131.0,365.2 134.0,364.4 137.0,364.2 140.0,363.9 143.0,362.9 146.0,364.8 149.0,363.4 152.0,365.0 155.0,365.2 158.0,362.0 161.0,361.2 164.0,361.7 167.0,363.2 170.0,361.4 173.0,362.2 176.0,361.6 179.0,362.9 182.0,364.1 185.0,364.1 188.0,361.8 191.0,362.9 194.0,362.1 197.0,363.3 200.0,362.4 203.0,363.7 206.0,364.7 209.0,364.5 212.0,364.4 215.0,364.3 218.0,363.4 221.0,361.2 224.0,363.3 227.0,362.3 230.0,360.0 233.0,360.5 236.0,360.7 239.0,359.9 242.0,362.5 245.0,360.4 248.0,362.5 251.0,362.2 254.0,360.5 257.0,360.3 260.0,360.6 263.0,359.4 266.0,361.4 269.0,361.9 272.0,363.5 275.0,363.7 278.0,363.6 281.0,364.3 284.0,364.4 287.0,363.3 290.0,362.4 293.0,361.8 296.0,362.7 299.0,363.5 302.0,363.5 305.0,363.4 308.0,360.1 311.0,359.9 314.0,358.5 317.0,359.7 320.0,360.2 323.0,360.3 326.0,361.5 329.0,359.5 332.0,360.4 335.0,360.3 338.0,358.6 341.0,360.8 344.0,358.1 347.0,358.4 350.0,358.7 353.0,359.1 356.0,360.7 359.0,359.8 362.0,360.6 365.0,358.6 368.0,358.2 371.0,356.7 374.0,357.8 377.0,357.4 380.0,358.6 383.0,356.5 386.0,356.7 389.0,358.8 392.0,356.0 395.0,357.1 398.0,357.6 401.0,358.1 404.0,357.5 407.0,357.0 410.0,358.5 413.0,356.5 416.0,357.1 419.0,357.2 422.0,357.5 425.0,356.6 428.0,354.3 431.0,356.2 434.0,355.1 437.0,356.6 440.0,358.1 443.0,358.0 446.0,356.5 449.0,357.5 452.0,356.1 455.0,355.2 458.0,355.7 461.0,356.2 464.0,356.6 467.0,356.3 470.0,355.5 473.0,356.4 476.0,355.2 479.0,355.7 482.0,353.6 485.0,353.0 488.0,355.6 491.0,354.3 494.0,354.4 497.0,353.0 500.0,355.2 503.0,354.5 506.0,353.0 509.0,353.1 512.0,355.8 515.0,356.4 518.0,353.7 521.0,356.1 524.0,353.8 527.0,354.2 530.0,354.6 533.0,355.8 536.0,353.8 539.0,355.5 542.0,354.1 545.0,355.2 548.0,356.5 551.0,355.8 554.0,353.0 557.0,354.3 560.0,354.0 563.0,355.0 566.0,355.6 569.0,353.2 572.0,353.9 575.0,354.4 578.0,355.8 581.0,355.2 584.0,354.9 587.0,355.4 590.0,353.1 593.0,354.7 596.0,354.4 599.0,354.5 602.0,352.5 605.0,353.0 608.0,352.7 611.0,351.8 614.0,354.2 617.0,355.0 620.0,353.8 620.0,380.4 617.0,381.4 614.0,382.1 611.0,380.5 608.0,381.3 605.0,381.4 602.0,380.2 599.0,380.7 596.0,382.3 593.0,381.7 590.0,380.6 587.0,380.9 584.0,381.5 581.0,381.2 578.0,380.4 575.0,381.6 572.0,383.4 569.0,383.2 566.0,382.8 563.0,381.8 560.0,382.0 557.0,381.5 554.0,381.4 551.0,382.4 548.0,382.1 545.0,381.2 542.0,380.8 539.0,382.2 536.0,381.2 533.0,380.0 530.0,380.5 527.0,380.2 524.0,380.8 521.0,381.4 518.0,382.2 515.0,381.3 512.0,381.1 509.0,381.8 506.0,380.8 503.0,382.3 500.0,382.6 497.0,381.8 494.0,380.9 491.0,382.5 488.0,381.2 485.0,381.1 482.0,382.6 479.0,381.7 476.0,381.8 473.0,381.4 470.0,382.5 467.0,382.6 464.0,382.0 461.0,382.1 458.0,382.0 455.0,382.2 452.0,382.1 449.0,381.2 446.0,382.0 443.0,380.5 440.0,381.0 437.0,381.3 434.0,380.2 431.0,380.2 428.0,380.8 425.0,380.6 422.0,381.4 419.0,382.2 416.0,381.1 413.0,381.6 410.0,381.5 407.0,382.9 404.0,382.6 401.0,381.9 398.0,381.1 395.0,381.7 392.0,380.7 389.0,381.9 386.0,380.6 383.0,380.9 380.0,381.7 377.0,382.8 374.0,381.6 371.0,380.9 368.0,381.9 365.0,381.0 362.0,380.2 359.0,381.1 356.0,380.9 353.0,382.0 350.0,381.6 347.0,381.8 344.0,381.5 341.0,380.3 338.0,380.8 335.0,379.9 332.0,380.6 329.0,381.7 326.0,382.5 323.0,381.6 320.0,380.7 317.0,381.6 314.0,380.9 311.0,382.3 308.0,382.3 305.0,383.0 302.0,382.6 299.0,382.6 296.0,382.0 293.0,381.6 290.0,382.9 287.0,382.9 284.0,382.1 281.0,382.9 278.0,382.8 275.0,382.4 272.0,381.1 269.0,382.5 266.0,382.1 263.0,381.5 260.0,381.2 257.0,381.3 254.0,380.8 251.0,380.9 248.0,379.9 245.0,380.1 242.0,380.2 239.0,380.6 236.0,381.3 233.0,381.3 230.0,381.0 227.0,379.8 224.0,380.5 221.0,381.7 218.0,382.2 215.0,382.1 212.0,381.3 209.0,380.1 206.0,380.1 203.0,380.7 200.0,381.5 197.0,381.3 194.0,381.0 191.0,382.3 188.0,382.9 185.0,382.5 182.0,382.6 179.0,383.4 176.0,383.1 173.0,382.8 170.0,382.3 167.0,381.3 164.0,381.5 161.0,380.2 158.0,380.0 155.0,379.8 152.0,379.7 149.0,379.9 146.0,380.7 143.0,380.4 140.0,381.5 137.0,380.8 134.0,380.9 131.0,381.8 128.0,382.6 125.0,381.3 122.0,382.7 119.0,381.8 116.0,382.6 113.0,381.6 110.0,381.8 107.0,381.0 104.0,382.6" fill="#357A32"/>
<polyline points="104.2,378.7 106.5,375.8 109.9,372.8 112.2,376.0 115.0,364.9 116.5,380.3 120.0,368.5 122.6,367.0 124.6,371.3 127.0,366.4 130.0,374.5 132.3,374.7 136.0,365.0 137.4,365.5 140.7,370.6 142.9,367.9 146.0,376.1 148.1,377.1 150.4,369.4 154.1,367.5 155.4,364.3 158.9,376.9 160.5,371.4 163.6,369.0 166.0,369.8 168.4,378.4 171.1,372.2 174.4,374.1 176.8,371.9 180.1,366.3 181.5,368.3 185.0,370.3 187.0,364.7 189.2,373.9 192.0,370.8 194.6,368.4 197.1,378.0 200.4,371.2 202.4,376.8 205.5,365.5 207.5,378.6 210.3,369.9 212.6,377.3 215.4,372.4 218.8,371.9 220.8,367.5 223.9,367.4 226.4,378.6 229.5,374.0 231.6,365.8 234.5,377.8 236.4,364.3 239.3,370.2 242.4,375.3 244.3,371.7 247.0,373.8 249.8,373.8 251.7,376.1 254.1,367.4 257.5,363.6 260.2,368.3 262.3,364.4 265.0,372.4 267.1,376.5 271.2,371.5 273.1,376.2 275.8,373.8 278.2,371.4 280.6,364.8 283.8,373.7 285.2,375.5 289.4,369.6 291.9,366.5 294.0,375.8 296.2,367.7 298.4,371.7 301.3,370.6 304.4,366.7 306.7,363.5 309.7,374.5 311.7,366.1 314.8,369.9 317.7,374.6 319.7,369.4 322.5,372.1 325.0,371.2 327.4,373.5 330.2,364.5 333.0,367.5 335.1,371.6 338.6,368.6 340.4,372.4 343.8,374.9 346.6,363.0 348.4,367.8 350.8,366.9 353.7,374.0 356.5,363.0 358.7,375.0 361.2,366.2 363.8,371.5 366.3,364.4 368.4,363.7 372.1,362.6 374.1,365.9 377.5,374.7 378.9,363.6 381.8,363.8 384.8,376.3 387.2,372.1 390.0,375.9 392.4,371.7 394.6,367.0 397.1,369.2 400.6,364.0 403.0,371.8 405.3,375.7 407.5,366.5 411.6,376.2 413.4,363.4 415.7,367.1 418.4,367.5 421.0,374.7 423.1,374.0 426.2,376.1 429.6,375.0 431.6,374.1 433.6,365.8 436.2,361.1 440.1,366.4 441.6,374.7 445.1,370.2 446.9,362.2 449.2,370.1 453.1,370.6 454.6,362.9 458.1,372.5 460.2,369.7 462.1,362.5 466.2,360.8 468.5,363.0 471.0,362.7 472.6,371.0 476.5,368.4 479.0,371.0 481.6,369.2 484.2,371.0 486.1,366.7 489.3,361.1 491.4,361.8 494.5,368.9 497.1,366.3 499.1,368.8 502.0,363.8 503.7,368.1 506.4,368.1 509.0,369.8 512.3,362.7 515.3,367.6 518.1,364.9 520.0,366.3 522.9,365.5 525.3,367.5 527.3,375.3 530.1,374.2 533.2,366.8 535.4,363.9 537.6,364.7 541.5,362.4 543.4,367.3 545.7,360.1 549.0,368.0 551.4,366.9 554.5,368.0 556.7,363.2 558.9,369.5 562.3,371.8 564.7,367.2 567.2,372.3 569.9,361.9 572.4,374.9 575.1,370.1 576.4,365.0 579.1,370.6 582.6,374.2 584.4,367.7 588.4,373.1 589.6,365.7 593.6,364.7 595.5,361.2 598.7,374.0 600.5,360.9 603.0,369.5 606.5,367.2 608.2,361.7 610.7,364.4 614.1,366.2 616.6,361.8 618.1,361.7 620.8,374.1" fill="none" stroke="#357A32" stroke-width="1.2"/>
<g fill="#F0F6EE" stroke="#357A32" stroke-width="1.2"><circle cx="104.2" cy="378.7" r="2.2"/><circle cx="106.5" cy="375.8" r="2.2"/><circle cx="109.9" cy="372.8" r="2.2"/><circle cx="112.2" cy="376.0" r="2.2"/><circle cx="115.0" cy="364.9" r="2.2"/><circle cx="116.5" cy="380.3" r="2.2"/><circle cx="120.0" cy="368.5" r="2.2"/><circle cx="122.6" cy="367.0" r="2.2"/><circle cx="124.6" cy="371.3" r="2.2"/><circle cx="127.0" cy="366.4" r="2.2"/><circle cx="130.0" cy="374.5" r="2.2"/><circle cx="132.3" cy="374.7" r="2.2"/><circle cx="136.0" cy="365.0" r="2.2"/><circle cx="137.4" cy="365.5" r="2.2"/><circle cx="140.7" cy="370.6" r="2.2"/><circle cx="142.9" cy="367.9" r="2.2"/><circle cx="146.0" cy="376.1" r="2.2"/><circle cx="148.1" cy="377.1" r="2.2"/><circle cx="150.4" cy="369.4" r="2.2"/><circle cx="154.1" cy="367.5" r="2.2"/><circle cx="155.4" cy="364.3" r="2.2"/><circle cx="158.9" cy="376.9" r="2.2"/><circle cx="160.5" cy="371.4" r="2.2"/><circle cx="163.6" cy="369.0" r="2.2"/><circle cx="166.0" cy="369.8" r="2.2"/><circle cx="168.4" cy="378.4" r="2.2"/><circle cx="171.1" cy="372.2" r="2.2"/><circle cx="174.4" cy="374.1" r="2.2"/><circle cx="176.8" cy="371.9" r="2.2"/><circle cx="180.1" cy="366.3" r="2.2"/><circle cx="181.5" cy="368.3" r="2.2"/><circle cx="185.0" cy="370.3" r="2.2"/><circle cx="187.0" cy="364.7" r="2.2"/><circle cx="189.2" cy="373.9" r="2.2"/><circle cx="192.0" cy="370.8" r="2.2"/><circle cx="194.6" cy="368.4" r="2.2"/><circle cx="197.1" cy="378.0" r="2.2"/><circle cx="200.4" cy="371.2" r="2.2"/><circle cx="202.4" cy="376.8" r="2.2"/><circle cx="205.5" cy="365.5" r="2.2"/><circle cx="207.5" cy="378.6" r="2.2"/><circle cx="210.3" cy="369.9" r="2.2"/><circle cx="212.6" cy="377.3" r="2.2"/><circle cx="215.4" cy="372.4" r="2.2"/><circle cx="218.8" cy="371.9" r="2.2"/><circle cx="220.8" cy="367.5" r="2.2"/><circle cx="223.9" cy="367.4" r="2.2"/><circle cx="226.4" cy="378.6" r="2.2"/><circle cx="229.5" cy="374.0" r="2.2"/><circle cx="231.6" cy="365.8" r="2.2"/><circle cx="234.5" cy="377.8" r="2.2"/><circle cx="236.4" cy="364.3" r="2.2"/><circle cx="239.3" cy="370.2" r="2.2"/><circle cx="242.4" cy="375.3" r="2.2"/><circle cx="244.3" cy="371.7" r="2.2"/><circle cx="247.0" cy="373.8" r="2.2"/><circle cx="249.8" cy="373.8" r="2.2"/><circle cx="251.7" cy="376.1" r="2.2"/><circle cx="254.1" cy="367.4" r="2.2"/><circle cx="257.5" cy="363.6" r="2.2"/><circle cx="260.2" cy="368.3" r="2.2"/><circle cx="262.3" cy="364.4" r="2.2"/><circle cx="265.0" cy="372.4" r="2.2"/><circle cx="267.1" cy="376.5" r="2.2"/><circle cx="271.2" cy="371.5" r="2.2"/><circle cx="273.1" cy="376.2" r="2.2"/><circle cx="275.8" cy="373.8" r="2.2"/><circle cx="278.2" cy="371.4" r="2.2"/><circle cx="280.6" cy="364.8" r="2.2"/><circle cx="283.8" cy="373.7" r="2.2"/><circle cx="285.2" cy="375.5" r="2.2"/><circle cx="289.4" cy="369.6" r="2.2"/><circle cx="291.9" cy="366.5" r="2.2"/><circle cx="294.0" cy="375.8" r="2.2"/><circle cx="296.2" cy="367.7" r="2.2"/><circle cx="298.4" cy="371.7" r="2.2"/><circle cx="301.3" cy="370.6" r="2.2"/><circle cx="304.4" cy="366.7" r="2.2"/><circle cx="306.7" cy="363.5" r="2.2"/><circle cx="309.7" cy="374.5" r="2.2"/><circle cx="311.7" cy="366.1" r="2.2"/><circle cx="314.8" cy="369.9" r="2.2"/><circle cx="317.7" cy="374.6" r="2.2"/><circle cx="319.7" cy="369.4" r="2.2"/><circle cx="322.5" cy="372.1" r="2.2"/><circle cx="325.0" cy="371.2" r="2.2"/><circle cx="327.4" cy="373.5" r="2.2"/><circle cx="330.2" cy="364.5" r="2.2"/><circle cx="333.0" cy="367.5" r="2.2"/><circle cx="335.1" cy="371.6" r="2.2"/><circle cx="338.6" cy="368.6" r="2.2"/><circle cx="340.4" cy="372.4" r="2.2"/><circle cx="343.8" cy="374.9" r="2.2"/><circle cx="346.6" cy="363.0" r="2.2"/><circle cx="348.4" cy="367.8" r="2.2"/><circle cx="350.8" cy="366.9" r="2.2"/><circle cx="353.7" cy="374.0" r="2.2"/><circle cx="356.5" cy="363.0" r="2.2"/><circle cx="358.7" cy="375.0" r="2.2"/><circle cx="361.2" cy="366.2" r="2.2"/><circle cx="363.8" cy="371.5" r="2.2"/><circle cx="366.3" cy="364.4" r="2.2"/><circle cx="368.4" cy="363.7" r="2.2"/><circle cx="372.1" cy="362.6" r="2.2"/><circle cx="374.1" cy="365.9" r="2.2"/><circle cx="377.5" cy="374.7" r="2.2"/><circle cx="378.9" cy="363.6" r="2.2"/><circle cx="381.8" cy="363.8" r="2.2"/><circle cx="384.8" cy="376.3" r="2.2"/><circle cx="387.2" cy="372.1" r="2.2"/><circle cx="390.0" cy="375.9" r="2.2"/><circle cx="392.4" cy="371.7" r="2.2"/><circle cx="394.6" cy="367.0" r="2.2"/><circle cx="397.1" cy="369.2" r="2.2"/><circle cx="400.6" cy="364.0" r="2.2"/><circle cx="403.0" cy="371.8" r="2.2"/><circle cx="405.3" cy="375.7" r="2.2"/><circle cx="407.5" cy="366.5" r="2.2"/><circle cx="411.6" cy="376.2" r="2.2"/><circle cx="413.4" cy="363.4" r="2.2"/><circle cx="415.7" cy="367.1" r="2.2"/><circle cx="418.4" cy="367.5" r="2.2"/><circle cx="421.0" cy="374.7" r="2.2"/><circle cx="423.1" cy="374.0" r="2.2"/><circle cx="426.2" cy="376.1" r="2.2"/><circle cx="429.6" cy="375.0" r="2.2"/><circle cx="431.6" cy="374.1" r="2.2"/><circle cx="433.6" cy="365.8" r="2.2"/><circle cx="436.2" cy="361.1" r="2.2"/><circle cx="440.1" cy="366.4" r="2.2"/><circle cx="441.6" cy="374.7" r="2.2"/><circle cx="445.1" cy="370.2" r="2.2"/><circle cx="446.9" cy="362.2" r="2.2"/><circle cx="449.2" cy="370.1" r="2.2"/><circle cx="453.1" cy="370.6" r="2.2"/><circle cx="454.6" cy="362.9" r="2.2"/><circle cx="458.1" cy="372.5" r="2.2"/><circle cx="460.2" cy="369.7" r="2.2"/><circle cx="462.1" cy="362.5" r="2.2"/><circle cx="466.2" cy="360.8" r="2.2"/><circle cx="468.5" cy="363.0" r="2.2"/><circle cx="471.0" cy="362.7" r="2.2"/><circle cx="472.6" cy="371.0" r="2.2"/><circle cx="476.5" cy="368.4" r="2.2"/><circle cx="479.0" cy="371.0" r="2.2"/><circle cx="481.6" cy="369.2" r="2.2"/><circle cx="484.2" cy="371.0" r="2.2"/><circle cx="486.1" cy="366.7" r="2.2"/><circle cx="489.3" cy="361.1" r="2.2"/><circle cx="491.4" cy="361.8" r="2.2"/><circle cx="494.5" cy="368.9" r="2.2"/><circle cx="497.1" cy="366.3" r="2.2"/><circle cx="499.1" cy="368.8" r="2.2"/><circle cx="502.0" cy="363.8" r="2.2"/><circle cx="503.7" cy="368.1" r="2.2"/><circle cx="506.4" cy="368.1" r="2.2"/><circle cx="509.0" cy="369.8" r="2.2"/><circle cx="512.3" cy="362.7" r="2.2"/><circle cx="515.3" cy="367.6" r="2.2"/><circle cx="518.1" cy="364.9" r="2.2"/><circle cx="520.0" cy="366.3" r="2.2"/><circle cx="522.9" cy="365.5" r="2.2"/><circle cx="525.3" cy="367.5" r="2.2"/><circle cx="527.3" cy="375.3" r="2.2"/><circle cx="530.1" cy="374.2" r="2.2"/><circle cx="533.2" cy="366.8" r="2.2"/><circle cx="535.4" cy="363.9" r="2.2"/><circle cx="537.6" cy="364.7" r="2.2"/><circle cx="541.5" cy="362.4" r="2.2"/><circle cx="543.4" cy="367.3" r="2.2"/><circle cx="545.7" cy="360.1" r="2.2"/><circle cx="549.0" cy="368.0" r="2.2"/><circle cx="551.4" cy="366.9" r="2.2"/><circle cx="554.5" cy="368.0" r="2.2"/><circle cx="556.7" cy="363.2" r="2.2"/><circle cx="558.9" cy="369.5" r="2.2"/><circle cx="562.3" cy="371.8" r="2.2"/><circle cx="564.7" cy="367.2" r="2.2"/><circle cx="567.2" cy="372.3" r="2.2"/><circle cx="569.9" cy="361.9" r="2.2"/><circle cx="572.4" cy="374.9" r="2.2"/><circle cx="575.1" cy="370.1" r="2.2"/><circle cx="576.4" cy="365.0" r="2.2"/><circle cx="579.1" cy="370.6" r="2.2"/><circle cx="582.6" cy="374.2" r="2.2"/><circle cx="584.4" cy="367.7" r="2.2"/><circle cx="588.4" cy="373.1" r="2.2"/><circle cx="589.6" cy="365.7" r="2.2"/><circle cx="593.6" cy="364.7" r="2.2"/><circle cx="595.5" cy="361.2" r="2.2"/><circle cx="598.7" cy="374.0" r="2.2"/><circle cx="600.5" cy="360.9" r="2.2"/><circle cx="603.0" cy="369.5" r="2.2"/><circle cx="606.5" cy="367.2" r="2.2"/><circle cx="608.2" cy="361.7" r="2.2"/><circle cx="610.7" cy="364.4" r="2.2"/><circle cx="614.1" cy="366.2" r="2.2"/><circle cx="616.6" cy="361.8" r="2.2"/><circle cx="618.1" cy="361.7" r="2.2"/><circle cx="620.8" cy="374.1" r="2.2"/></g>
<g fill="#FFFFFF" stroke="#357A32" stroke-width="0.8"><circle cx="604.3" cy="372.5" r="1.6"/><circle cx="349.4" cy="371.9" r="1.6"/><circle cx="501.6" cy="379.8" r="1.6"/><circle cx="321.9" cy="366.9" r="1.6"/><circle cx="298.1" cy="364.2" r="1.6"/><circle cx="437.2" cy="379.9" r="1.6"/><circle cx="211.3" cy="375.9" r="1.6"/><circle cx="213.3" cy="378.8" r="1.6"/><circle cx="392.5" cy="369.5" r="1.6"/><circle cx="119.7" cy="365.6" r="1.6"/><circle cx="571.2" cy="366.2" r="1.6"/><circle cx="422.5" cy="372.5" r="1.6"/><circle cx="334.1" cy="375.1" r="1.6"/><circle cx="169.1" cy="374.4" r="1.6"/><circle cx="136.8" cy="366.6" r="1.6"/><circle cx="453.7" cy="366.2" r="1.6"/><circle cx="174.0" cy="371.4" r="1.6"/><circle cx="435.5" cy="363.1" r="1.6"/><circle cx="453.5" cy="372.9" r="1.6"/><circle cx="104.4" cy="372.7" r="1.6"/><circle cx="104.5" cy="372.4" r="1.6"/><circle cx="420.0" cy="369.5" r="1.6"/><circle cx="290.3" cy="376.5" r="1.6"/><circle cx="204.4" cy="370.9" r="1.6"/><circle cx="362.6" cy="363.7" r="1.6"/><circle cx="569.6" cy="366.1" r="1.6"/><circle cx="513.7" cy="370.9" r="1.6"/><circle cx="109.0" cy="368.1" r="1.6"/><circle cx="405.9" cy="370.8" r="1.6"/><circle cx="576.3" cy="363.5" r="1.6"/><circle cx="533.6" cy="377.7" r="1.6"/><circle cx="188.3" cy="371.7" r="1.6"/><circle cx="129.6" cy="372.8" r="1.6"/><circle cx="463.5" cy="367.9" r="1.6"/><circle cx="511.2" cy="367.1" r="1.6"/><circle cx="133.5" cy="371.2" r="1.6"/><circle cx="490.0" cy="368.1" r="1.6"/><circle cx="216.3" cy="374.1" r="1.6"/><circle cx="450.5" cy="365.3" r="1.6"/><circle cx="189.2" cy="373.6" r="1.6"/><circle cx="513.5" cy="365.4" r="1.6"/><circle cx="435.3" cy="374.2" r="1.6"/><circle cx="125.4" cy="374.6" r="1.6"/><circle cx="355.9" cy="364.8" r="1.6"/><circle cx="173.7" cy="367.4" r="1.6"/><circle cx="469.4" cy="365.5" r="1.6"/><circle cx="405.3" cy="377.7" r="1.6"/><circle cx="397.5" cy="374.8" r="1.6"/><circle cx="163.7" cy="379.3" r="1.6"/><circle cx="594.9" cy="377.6" r="1.6"/><circle cx="224.4" cy="373.0" r="1.6"/><circle cx="493.3" cy="365.3" r="1.6"/><circle cx="172.2" cy="378.3" r="1.6"/><circle cx="394.1" cy="378.7" r="1.6"/><circle cx="321.7" cy="379.0" r="1.6"/><circle cx="474.7" cy="366.3" r="1.6"/><circle cx="227.2" cy="378.9" r="1.6"/><circle cx="158.1" cy="379.4" r="1.6"/><circle cx="436.9" cy="379.0" r="1.6"/><circle cx="203.3" cy="363.8" r="1.6"/><circle cx="587.6" cy="372.1" r="1.6"/><circle cx="251.3" cy="373.3" r="1.6"/><circle cx="178.0" cy="374.9" r="1.6"/><circle cx="430.2" cy="374.2" r="1.6"/><circle cx="299.2" cy="369.9" r="1.6"/><circle cx="230.2" cy="364.1" r="1.6"/><circle cx="369.1" cy="368.6" r="1.6"/><circle cx="300.2" cy="365.1" r="1.6"/><circle cx="499.4" cy="372.8" r="1.6"/><circle cx="156.0" cy="370.7" r="1.6"/><circle cx="326.8" cy="377.2" r="1.6"/><circle cx="290.8" cy="368.2" r="1.6"/><circle cx="379.4" cy="377.4" r="1.6"/><circle cx="115.0" cy="379.2" r="1.6"/><circle cx="146.9" cy="363.5" r="1.6"/><circle cx="239.2" cy="374.8" r="1.6"/><circle cx="566.5" cy="369.9" r="1.6"/><circle cx="174.3" cy="369.7" r="1.6"/><circle cx="269.2" cy="372.1" r="1.6"/><circle cx="161.0" cy="375.3" r="1.6"/><circle cx="546.5" cy="367.3" r="1.6"/><circle cx="337.4" cy="379.9" r="1.6"/><circle cx="218.9" cy="363.1" r="1.6"/><circle cx="454.5" cy="370.9" r="1.6"/><circle cx="324.5" cy="367.1" r="1.6"/><circle cx="424.3" cy="378.4" r="1.6"/><circle cx="511.6" cy="369.0" r="1.6"/><circle cx="201.1" cy="371.1" r="1.6"/><circle cx="589.0" cy="372.5" r="1.6"/><circle cx="404.3" cy="373.3" r="1.6"/><circle cx="576.7" cy="379.8" r="1.6"/><circle cx="217.0" cy="375.6" r="1.6"/><circle cx="468.9" cy="371.0" r="1.6"/><circle cx="465.3" cy="364.9" r="1.6"/><circle cx="348.0" cy="365.1" r="1.6"/><circle cx="117.4" cy="373.6" r="1.6"/><circle cx="608.0" cy="371.2" r="1.6"/><circle cx="440.1" cy="372.7" r="1.6"/><circle cx="220.0" cy="368.1" r="1.6"/><circle cx="422.9" cy="372.6" r="1.6"/><circle cx="129.9" cy="371.3" r="1.6"/><circle cx="382.9" cy="374.5" r="1.6"/><circle cx="166.1" cy="378.3" r="1.6"/><circle cx="379.8" cy="375.9" r="1.6"/><circle cx="486.8" cy="367.7" r="1.6"/><circle cx="200.8" cy="367.8" r="1.6"/><circle cx="493.8" cy="367.0" r="1.6"/><circle cx="593.9" cy="374.3" r="1.6"/><circle cx="428.6" cy="369.7" r="1.6"/><circle cx="351.7" cy="376.1" r="1.6"/><circle cx="355.4" cy="377.6" r="1.6"/><circle cx="612.1" cy="372.5" r="1.6"/><circle cx="543.7" cy="365.9" r="1.6"/><circle cx="179.3" cy="369.2" r="1.6"/><circle cx="576.0" cy="364.3" r="1.6"/><circle cx="249.4" cy="377.9" r="1.6"/><circle cx="201.8" cy="364.9" r="1.6"/><circle cx="237.5" cy="368.6" r="1.6"/><circle cx="372.9" cy="372.3" r="1.6"/><circle cx="290.9" cy="379.3" r="1.6"/><circle cx="471.2" cy="376.6" r="1.6"/><circle cx="493.8" cy="372.2" r="1.6"/><circle cx="496.0" cy="376.1" r="1.6"/><circle cx="583.5" cy="376.5" r="1.6"/><circle cx="479.5" cy="379.7" r="1.6"/><circle cx="389.1" cy="365.7" r="1.6"/><circle cx="233.7" cy="379.4" r="1.6"/><circle cx="192.8" cy="376.4" r="1.6"/><circle cx="278.7" cy="370.1" r="1.6"/><circle cx="114.0" cy="372.1" r="1.6"/><circle cx="540.0" cy="376.0" r="1.6"/><circle cx="113.3" cy="373.8" r="1.6"/><circle cx="521.1" cy="368.1" r="1.6"/><circle cx="170.0" cy="365.7" r="1.6"/><circle cx="405.3" cy="366.8" r="1.6"/><circle cx="301.4" cy="379.4" r="1.6"/><circle cx="414.9" cy="371.9" r="1.6"/><circle cx="234.2" cy="373.7" r="1.6"/><circle cx="502.5" cy="370.3" r="1.6"/><circle cx="542.8" cy="363.7" r="1.6"/><circle cx="196.4" cy="373.9" r="1.6"/><circle cx="177.5" cy="378.2" r="1.6"/><circle cx="265.1" cy="378.0" r="1.6"/><circle cx="113.6" cy="366.4" r="1.6"/><circle cx="486.5" cy="370.3" r="1.6"/><circle cx="437.5" cy="366.1" r="1.6"/><circle cx="426.2" cy="378.4" r="1.6"/><circle cx="179.4" cy="377.8" r="1.6"/><circle cx="619.1" cy="375.6" r="1.6"/><circle cx="517.5" cy="371.7" r="1.6"/><circle cx="551.8" cy="374.8" r="1.6"/><circle cx="245.2" cy="375.4" r="1.6"/><circle cx="362.3" cy="376.8" r="1.6"/><circle cx="430.5" cy="377.6" r="1.6"/><circle cx="127.6" cy="375.2" r="1.6"/><circle cx="172.8" cy="363.0" r="1.6"/><circle cx="390.9" cy="370.0" r="1.6"/><circle cx="185.3" cy="373.2" r="1.6"/><circle cx="572.2" cy="373.3" r="1.6"/><circle cx="168.1" cy="373.6" r="1.6"/></g>
<g fill="#FBEDEF" stroke="#8E2636" stroke-width="1.5"><circle cx="104.7" cy="367.5" r="2.5"/><circle cx="112.1" cy="373.6" r="2.5"/><circle cx="120.7" cy="371.6" r="2.5"/><circle cx="127.9" cy="375.1" r="2.5"/><circle cx="135.8" cy="381.0" r="2.5"/><circle cx="144.6" cy="377.5" r="2.5"/><circle cx="151.3" cy="382.2" r="2.5"/><circle cx="160.1" cy="375.0" r="2.5"/><circle cx="168.1" cy="373.4" r="2.5"/><circle cx="176.7" cy="369.0" r="2.5"/><circle cx="183.4" cy="382.0" r="2.5"/><circle cx="191.6" cy="369.0" r="2.5"/><circle cx="199.9" cy="380.1" r="2.5"/><circle cx="207.8" cy="364.1" r="2.5"/><circle cx="215.6" cy="368.0" r="2.5"/><circle cx="223.2" cy="379.9" r="2.5"/><circle cx="232.4" cy="366.2" r="2.5"/><circle cx="239.6" cy="381.4" r="2.5"/><circle cx="248.3" cy="371.8" r="2.5"/><circle cx="256.1" cy="381.4" r="2.5"/><circle cx="263.6" cy="375.0" r="2.5"/><circle cx="271.2" cy="372.3" r="2.5"/><circle cx="279.6" cy="369.7" r="2.5"/><circle cx="287.8" cy="371.2" r="2.5"/><circle cx="296.6" cy="370.1" r="2.5"/><circle cx="303.2" cy="378.5" r="2.5"/><circle cx="312.7" cy="378.4" r="2.5"/><circle cx="319.7" cy="369.5" r="2.5"/><circle cx="328.4" cy="364.4" r="2.5"/><circle cx="335.3" cy="371.9" r="2.5"/><circle cx="343.6" cy="370.9" r="2.5"/><circle cx="351.5" cy="379.7" r="2.5"/><circle cx="360.0" cy="368.5" r="2.5"/><circle cx="367.7" cy="367.0" r="2.5"/><circle cx="376.5" cy="376.3" r="2.5"/><circle cx="384.5" cy="378.5" r="2.5"/><circle cx="392.2" cy="368.5" r="2.5"/><circle cx="399.9" cy="363.8" r="2.5"/><circle cx="407.8" cy="370.0" r="2.5"/><circle cx="416.6" cy="371.5" r="2.5"/><circle cx="423.4" cy="370.6" r="2.5"/><circle cx="431.7" cy="375.4" r="2.5"/><circle cx="440.5" cy="371.6" r="2.5"/><circle cx="448.3" cy="368.4" r="2.5"/><circle cx="455.6" cy="375.3" r="2.5"/><circle cx="464.4" cy="370.8" r="2.5"/><circle cx="472.7" cy="375.5" r="2.5"/><circle cx="480.3" cy="362.6" r="2.5"/><circle cx="488.7" cy="362.4" r="2.5"/><circle cx="495.5" cy="362.8" r="2.5"/><circle cx="503.5" cy="373.2" r="2.5"/><circle cx="512.1" cy="362.9" r="2.5"/><circle cx="519.5" cy="373.9" r="2.5"/><circle cx="527.7" cy="364.3" r="2.5"/><circle cx="536.5" cy="365.0" r="2.5"/><circle cx="543.3" cy="369.6" r="2.5"/><circle cx="552.4" cy="360.3" r="2.5"/><circle cx="560.2" cy="363.4" r="2.5"/><circle cx="568.6" cy="368.5" r="2.5"/><circle cx="575.7" cy="366.0" r="2.5"/><circle cx="583.3" cy="360.5" r="2.5"/><circle cx="592.0" cy="368.7" r="2.5"/><circle cx="599.5" cy="361.8" r="2.5"/><circle cx="607.9" cy="376.2" r="2.5"/><circle cx="615.3" cy="371.6" r="2.5"/></g>
<g fill="#F2FAEE" stroke="#7CC462" stroke-width="1.4"><circle cx="322.4" cy="373.1" r="2.5"/><circle cx="345.4" cy="384.2" r="2.5"/><circle cx="119.5" cy="376.7" r="2.5"/><circle cx="236.9" cy="374.3" r="2.5"/><circle cx="433.7" cy="384.5" r="2.5"/><circle cx="406.3" cy="376.3" r="2.5"/><circle cx="431.8" cy="371.6" r="2.5"/><circle cx="288.1" cy="377.0" r="2.5"/><circle cx="131.6" cy="378.3" r="2.5"/><circle cx="245.6" cy="375.5" r="2.5"/><circle cx="142.0" cy="380.0" r="2.5"/><circle cx="154.6" cy="370.5" r="2.5"/><circle cx="430.4" cy="374.7" r="2.5"/><circle cx="334.1" cy="380.9" r="2.5"/><circle cx="390.2" cy="383.7" r="2.5"/><circle cx="163.7" cy="376.7" r="2.5"/><circle cx="152.9" cy="380.8" r="2.5"/><circle cx="189.5" cy="374.0" r="2.5"/><circle cx="198.2" cy="380.8" r="2.5"/><circle cx="283.9" cy="382.4" r="2.5"/><circle cx="325.6" cy="378.8" r="2.5"/><circle cx="356.1" cy="375.0" r="2.5"/><circle cx="254.4" cy="374.3" r="2.5"/><circle cx="181.1" cy="383.6" r="2.5"/><circle cx="333.3" cy="376.8" r="2.5"/><circle cx="337.1" cy="372.7" r="2.5"/><circle cx="434.9" cy="377.4" r="2.5"/><circle cx="216.1" cy="380.4" r="2.5"/><circle cx="286.8" cy="380.6" r="2.5"/><circle cx="151.6" cy="384.3" r="2.5"/><circle cx="435.6" cy="371.9" r="2.5"/><circle cx="298.7" cy="370.5" r="2.5"/><circle cx="126.1" cy="373.1" r="2.5"/><circle cx="129.9" cy="384.3" r="2.5"/><circle cx="288.4" cy="378.3" r="2.5"/><circle cx="373.8" cy="374.2" r="2.5"/><circle cx="286.3" cy="380.6" r="2.5"/><circle cx="329.1" cy="374.7" r="2.5"/><circle cx="126.6" cy="383.4" r="2.5"/><circle cx="474.7" cy="384.7" r="2.5"/><circle cx="152.9" cy="373.0" r="2.5"/><circle cx="181.0" cy="382.6" r="2.5"/><circle cx="259.2" cy="381.2" r="2.5"/><circle cx="389.8" cy="377.3" r="2.5"/><circle cx="180.4" cy="384.9" r="2.5"/><circle cx="319.2" cy="381.4" r="2.5"/><circle cx="120.5" cy="378.6" r="2.5"/><circle cx="394.1" cy="375.4" r="2.5"/><circle cx="261.4" cy="382.8" r="2.5"/><circle cx="291.9" cy="379.7" r="2.5"/><circle cx="241.5" cy="370.8" r="2.5"/><circle cx="302.9" cy="379.2" r="2.5"/><circle cx="374.7" cy="376.0" r="2.5"/><circle cx="407.5" cy="382.1" r="2.5"/><circle cx="135.1" cy="371.8" r="2.5"/><circle cx="405.9" cy="382.3" r="2.5"/><circle cx="400.7" cy="371.9" r="2.5"/><circle cx="456.1" cy="371.8" r="2.5"/><circle cx="166.6" cy="379.6" r="2.5"/><circle cx="372.6" cy="370.5" r="2.5"/></g>
<g fill="#F2FAEE" stroke="#7CC462" stroke-width="1.4"><circle cx="486.0" cy="377.4" r="2.5"/><circle cx="482.7" cy="376.2" r="2.5"/><circle cx="618.7" cy="372.6" r="2.5"/><circle cx="618.3" cy="378.2" r="2.5"/><circle cx="605.5" cy="368.3" r="2.5"/><circle cx="584.5" cy="376.3" r="2.5"/><circle cx="565.8" cy="374.0" r="2.5"/><circle cx="618.7" cy="378.5" r="2.5"/><circle cx="583.0" cy="378.9" r="2.5"/><circle cx="557.6" cy="381.0" r="2.5"/><circle cx="567.5" cy="377.0" r="2.5"/><circle cx="499.8" cy="376.9" r="2.5"/><circle cx="501.9" cy="377.4" r="2.5"/><circle cx="540.6" cy="380.2" r="2.5"/><circle cx="563.7" cy="373.8" r="2.5"/><circle cx="553.6" cy="371.5" r="2.5"/><circle cx="619.4" cy="381.7" r="2.5"/><circle cx="536.1" cy="371.5" r="2.5"/><circle cx="543.4" cy="378.2" r="2.5"/><circle cx="543.3" cy="383.1" r="2.5"/><circle cx="487.2" cy="373.5" r="2.5"/><circle cx="553.4" cy="368.7" r="2.5"/><circle cx="546.2" cy="377.2" r="2.5"/><circle cx="523.2" cy="383.9" r="2.5"/><circle cx="529.6" cy="373.9" r="2.5"/><circle cx="564.5" cy="372.2" r="2.5"/><circle cx="546.9" cy="370.5" r="2.5"/><circle cx="487.9" cy="379.0" r="2.5"/><circle cx="519.5" cy="370.6" r="2.5"/><circle cx="516.6" cy="374.7" r="2.5"/><circle cx="500.9" cy="379.1" r="2.5"/><circle cx="582.6" cy="383.5" r="2.5"/><circle cx="486.1" cy="373.0" r="2.5"/><circle cx="575.6" cy="381.5" r="2.5"/><circle cx="515.1" cy="381.9" r="2.5"/><circle cx="486.0" cy="376.8" r="2.5"/><circle cx="483.4" cy="370.5" r="2.5"/><circle cx="581.5" cy="375.1" r="2.5"/><circle cx="609.3" cy="383.0" r="2.5"/><circle cx="543.4" cy="376.5" r="2.5"/></g>
<line x1="316.0" y1="362.4" x2="316.0" y2="386" stroke="#8E2636" stroke-width="1.5"/>
<circle cx="316.0" cy="362.4" r="2.4" fill="#FBEDEF" stroke="#8E2636" stroke-width="1.6"/>
<line x1="201.2" y1="363.0" x2="201.2" y2="386" stroke="#8E2636" stroke-width="1.5"/>
<circle cx="201.2" cy="363.0" r="2.4" fill="#FBEDEF" stroke="#8E2636" stroke-width="1.6"/>
<line x1="497.5" y1="363.0" x2="497.5" y2="386" stroke="#8E2636" stroke-width="1.5"/>
<circle cx="497.5" cy="363.0" r="2.4" fill="#FBEDEF" stroke="#8E2636" stroke-width="1.6"/>
<line x1="305.4" y1="368.2" x2="305.4" y2="386" stroke="#8E2636" stroke-width="1.5"/>
<circle cx="305.4" cy="368.2" r="2.4" fill="#FBEDEF" stroke="#8E2636" stroke-width="1.6"/>
<line x1="384.7" y1="371.3" x2="384.7" y2="386" stroke="#8E2636" stroke-width="1.5"/>
<circle cx="384.7" cy="371.3" r="2.4" fill="#FBEDEF" stroke="#8E2636" stroke-width="1.6"/>
<line x1="359.5" y1="365.1" x2="359.5" y2="386" stroke="#8E2636" stroke-width="1.5"/>
<circle cx="359.5" cy="365.1" r="2.4" fill="#FBEDEF" stroke="#8E2636" stroke-width="1.6"/>
<line x1="422.7" y1="362.6" x2="422.7" y2="386" stroke="#8E2636" stroke-width="1.5"/>
<circle cx="422.7" cy="362.6" r="2.4" fill="#FBEDEF" stroke="#8E2636" stroke-width="1.6"/>
<line x1="570.0" y1="364.5" x2="570.0" y2="386" stroke="#8E2636" stroke-width="1.5"/>
<circle cx="570.0" cy="364.5" r="2.4" fill="#FBEDEF" stroke="#8E2636" stroke-width="1.6"/>
<line x1="307.9" y1="368.2" x2="307.9" y2="386" stroke="#8E2636" stroke-width="1.5"/>
<circle cx="307.9" cy="368.2" r="2.4" fill="#FBEDEF" stroke="#8E2636" stroke-width="1.6"/>
<line x1="187.7" y1="367.9" x2="187.7" y2="386" stroke="#8E2636" stroke-width="1.5"/>
<circle cx="187.7" cy="367.9" r="2.4" fill="#FBEDEF" stroke="#8E2636" stroke-width="1.6"/>
<line x1="517.5" y1="379.3" x2="517.5" y2="397" stroke="#5C4A1C" stroke-width="1.4"/>
<circle cx="517.5" cy="379.3" r="2.3" fill="#F3EFE6" stroke="#5C4A1C" stroke-width="1.6"/>
<line x1="232.7" y1="384.2" x2="232.7" y2="397" stroke="#5C4A1C" stroke-width="1.4"/>
<circle cx="232.7" cy="384.2" r="2.3" fill="#F3EFE6" stroke="#5C4A1C" stroke-width="1.6"/>
<line x1="168.7" y1="380.8" x2="168.7" y2="397" stroke="#5C4A1C" stroke-width="1.4"/>
<circle cx="168.7" cy="380.8" r="2.3" fill="#F3EFE6" stroke="#5C4A1C" stroke-width="1.6"/>
<line x1="394.5" y1="382.1" x2="394.5" y2="397" stroke="#5C4A1C" stroke-width="1.4"/>
<circle cx="394.5" cy="382.1" r="2.3" fill="#F3EFE6" stroke="#5C4A1C" stroke-width="1.6"/>
<line x1="184.2" y1="382.3" x2="184.2" y2="397" stroke="#5C4A1C" stroke-width="1.4"/>
<circle cx="184.2" cy="382.3" r="2.3" fill="#F3EFE6" stroke="#5C4A1C" stroke-width="1.6"/>
<line x1="365.3" y1="384.5" x2="365.3" y2="397" stroke="#5C4A1C" stroke-width="1.4"/>
<circle cx="365.3" cy="384.5" r="2.3" fill="#F3EFE6" stroke="#5C4A1C" stroke-width="1.6"/>
<line x1="124.5" y1="385.6" x2="124.5" y2="397" stroke="#5C4A1C" stroke-width="1.4"/>
<circle cx="124.5" cy="385.6" r="2.3" fill="#F3EFE6" stroke="#5C4A1C" stroke-width="1.6"/>
<line x1="198.1" y1="384.1" x2="198.1" y2="397" stroke="#5C4A1C" stroke-width="1.4"/>
<circle cx="198.1" cy="384.1" r="2.3" fill="#F3EFE6" stroke="#5C4A1C" stroke-width="1.6"/>
<line x1="368.7" y1="384.4" x2="368.7" y2="397" stroke="#5C4A1C" stroke-width="1.4"/>
<circle cx="368.7" cy="384.4" r="2.3" fill="#F3EFE6" stroke="#5C4A1C" stroke-width="1.6"/>
<line x1="203.3" y1="379.2" x2="203.3" y2="397" stroke="#5C4A1C" stroke-width="1.4"/>
<circle cx="203.3" cy="379.2" r="2.3" fill="#F3EFE6" stroke="#5C4A1C" stroke-width="1.6"/>
<line x1="154.5" y1="390.5" x2="154.5" y2="400" stroke="#9A6CC4" stroke-width="1.6"/>
<circle cx="154.5" cy="390.5" r="2.3" fill="#F6F0FB" stroke="#9A6CC4" stroke-width="1.6"/>
<line x1="382.3" y1="386.4" x2="382.3" y2="400" stroke="#9A6CC4" stroke-width="1.6"/>
<circle cx="382.3" cy="386.4" r="2.3" fill="#F6F0FB" stroke="#9A6CC4" stroke-width="1.6"/>
<line x1="207.8" y1="385.6" x2="207.8" y2="400" stroke="#9A6CC4" stroke-width="1.6"/>
<circle cx="207.8" cy="385.6" r="2.3" fill="#F6F0FB" stroke="#9A6CC4" stroke-width="1.6"/>
<line x1="212.1" y1="388.9" x2="212.1" y2="400" stroke="#9A6CC4" stroke-width="1.6"/>
<circle cx="212.1" cy="388.9" r="2.3" fill="#F6F0FB" stroke="#9A6CC4" stroke-width="1.6"/>
<line x1="333.2" y1="389.9" x2="333.2" y2="400" stroke="#9A6CC4" stroke-width="1.6"/>
<circle cx="333.2" cy="389.9" r="2.3" fill="#F6F0FB" stroke="#9A6CC4" stroke-width="1.6"/>
<line x1="148.9" y1="390.9" x2="148.9" y2="400" stroke="#9A6CC4" stroke-width="1.6"/>
<circle cx="148.9" cy="390.9" r="2.3" fill="#F6F0FB" stroke="#9A6CC4" stroke-width="1.6"/>
<line x1="610.9" y1="390.2" x2="610.9" y2="400" stroke="#9A6CC4" stroke-width="1.6"/>
<circle cx="610.9" cy="390.2" r="2.3" fill="#F6F0FB" stroke="#9A6CC4" stroke-width="1.6"/>
<line x1="489.0" y1="390.9" x2="489.0" y2="400" stroke="#9A6CC4" stroke-width="1.6"/>
<circle cx="489.0" cy="390.9" r="2.3" fill="#F6F0FB" stroke="#9A6CC4" stroke-width="1.6"/>
<line x1="158.4" y1="388.2" x2="158.4" y2="400" stroke="#9A6CC4" stroke-width="1.6"/>
<circle cx="158.4" cy="388.2" r="2.3" fill="#F6F0FB" stroke="#9A6CC4" stroke-width="1.6"/>
<line x1="150.5" y1="408.5" x2="150.5" y2="417" stroke="#5C4A1C" stroke-width="1.3"/>
<circle cx="150.5" cy="408.5" r="2.2" fill="#F3EFE6" stroke="#5C4A1C" stroke-width="1.6"/>
<line x1="384.4" y1="403.7" x2="384.4" y2="417" stroke="#5C4A1C" stroke-width="1.3"/>
<circle cx="384.4" cy="403.7" r="2.2" fill="#F3EFE6" stroke="#5C4A1C" stroke-width="1.6"/>
<line x1="336.8" y1="408.4" x2="336.8" y2="417" stroke="#5C4A1C" stroke-width="1.3"/>
<circle cx="336.8" cy="408.4" r="2.2" fill="#F3EFE6" stroke="#5C4A1C" stroke-width="1.6"/>
<line x1="391.5" y1="403.9" x2="391.5" y2="417" stroke="#5C4A1C" stroke-width="1.3"/>
<circle cx="391.5" cy="403.9" r="2.2" fill="#F3EFE6" stroke="#5C4A1C" stroke-width="1.6"/>
<line x1="587.8" y1="403.4" x2="587.8" y2="417" stroke="#5C4A1C" stroke-width="1.3"/>
<circle cx="587.8" cy="403.4" r="2.2" fill="#F3EFE6" stroke="#5C4A1C" stroke-width="1.6"/>
<line x1="540.0" y1="409.8" x2="540.0" y2="417" stroke="#5C4A1C" stroke-width="1.3"/>
<circle cx="540.0" cy="409.8" r="2.2" fill="#F3EFE6" stroke="#5C4A1C" stroke-width="1.6"/>
<line x1="493.0" y1="409.6" x2="493.0" y2="417" stroke="#5C4A1C" stroke-width="1.3"/>
<circle cx="493.0" cy="409.6" r="2.2" fill="#F3EFE6" stroke="#5C4A1C" stroke-width="1.6"/>
<line x1="380.8" y1="404.5" x2="380.8" y2="417" stroke="#5C4A1C" stroke-width="1.3"/>
<circle cx="380.8" cy="404.5" r="2.2" fill="#F3EFE6" stroke="#5C4A1C" stroke-width="1.6"/>
<line x1="350.9" y1="408.2" x2="350.9" y2="417" stroke="#5C4A1C" stroke-width="1.3"/>
<circle cx="350.9" cy="408.2" r="2.2" fill="#F3EFE6" stroke="#5C4A1C" stroke-width="1.6"/>
<line x1="501.9" y1="405.7" x2="501.9" y2="417" stroke="#5C4A1C" stroke-width="1.3"/>
<circle cx="501.9" cy="405.7" r="2.2" fill="#F3EFE6" stroke="#5C4A1C" stroke-width="1.6"/>
<line x1="593.1" y1="403.2" x2="593.1" y2="417" stroke="#5C4A1C" stroke-width="1.3"/>
<circle cx="593.1" cy="403.2" r="2.2" fill="#F3EFE6" stroke="#5C4A1C" stroke-width="1.6"/>
<line x1="101.3" y1="262.5" x2="101.3" y2="372" stroke="#2F6A35" stroke-width="2.2"/>
<circle cx="101.3" cy="262.5" r="2.8" fill="#fff" stroke="#2F6A35" stroke-width="1.6"/>
<line x1="101.3" y1="272.5" x2="101.3" y2="372" stroke="#9A6CC4" stroke-width="2.2"/>
<circle cx="101.3" cy="272.5" r="2.8" fill="#fff" stroke="#9A6CC4" stroke-width="1.6"/>
<line x1="109.4" y1="325" x2="109.4" y2="372" stroke="#E05050" stroke-width="2.2"/>
<circle cx="109.4" cy="325" r="2.8" fill="#fff" stroke="#E05050" stroke-width="1.6"/>
<line x1="112.5" y1="330" x2="112.5" y2="372" stroke="#E05050" stroke-width="2.2"/>
<circle cx="112.5" cy="330" r="2.8" fill="#fff" stroke="#E05050" stroke-width="1.6"/>
<line x1="117.8" y1="326.6" x2="117.8" y2="372" stroke="#EDE26A" stroke-width="2.2"/>
<circle cx="117.8" cy="326.6" r="2.8" fill="#fff" stroke="#EDE26A" stroke-width="1.6"/>
<line x1="123.1" y1="305.3" x2="123.1" y2="372" stroke="#9A6CC4" stroke-width="2.2"/>
<circle cx="123.1" cy="305.3" r="2.8" fill="#fff" stroke="#9A6CC4" stroke-width="1.6"/>
<line x1="128.8" y1="331" x2="128.8" y2="372" stroke="#E05050" stroke-width="2.2"/>
<circle cx="128.8" cy="331" r="2.8" fill="#fff" stroke="#E05050" stroke-width="1.6"/>
<line x1="135.6" y1="313" x2="135.6" y2="372" stroke="#EDE26A" stroke-width="2.2"/>
<circle cx="135.6" cy="313" r="2.8" fill="#fff" stroke="#EDE26A" stroke-width="1.6"/>
<line x1="143.8" y1="301" x2="143.8" y2="372" stroke="#45201F" stroke-width="2.2"/>
<circle cx="143.8" cy="301" r="2.8" fill="#fff" stroke="#45201F" stroke-width="1.6"/>
<line x1="161.6" y1="345.3" x2="161.6" y2="372" stroke="#6CBF5A" stroke-width="2.2"/>
<circle cx="161.6" cy="345.3" r="2.8" fill="#fff" stroke="#6CBF5A" stroke-width="1.6"/>
<line x1="170" y1="353" x2="170" y2="372" stroke="#9A6CC4" stroke-width="2.2"/>
<circle cx="170" cy="353" r="2.8" fill="#fff" stroke="#9A6CC4" stroke-width="1.6"/>
<line x1="177.5" y1="300.6" x2="177.5" y2="372" stroke="#EDE26A" stroke-width="2.2"/>
<circle cx="177.5" cy="300.6" r="2.8" fill="#fff" stroke="#EDE26A" stroke-width="1.6"/>
<line x1="211.9" y1="288.1" x2="211.9" y2="372" stroke="#6CBF5A" stroke-width="2.2"/>
<circle cx="211.9" cy="288.1" r="2.8" fill="#fff" stroke="#6CBF5A" stroke-width="1.6"/>
<line x1="243.4" y1="331.3" x2="243.4" y2="372" stroke="#6A2628" stroke-width="2.2"/>
<circle cx="243.4" cy="331.3" r="2.8" fill="#fff" stroke="#6A2628" stroke-width="1.6"/>
<line x1="254.4" y1="320.3" x2="254.4" y2="372" stroke="#6A2628" stroke-width="2.2"/>
<circle cx="254.4" cy="320.3" r="2.8" fill="#fff" stroke="#6A2628" stroke-width="1.6"/>
<line x1="250.6" y1="343" x2="250.6" y2="372" stroke="#2F7A35" stroke-width="2.2"/>
<circle cx="250.6" cy="343" r="2.8" fill="#fff" stroke="#2F7A35" stroke-width="1.6"/>
<line x1="262.8" y1="325.6" x2="262.8" y2="372" stroke="#EDE26A" stroke-width="2.2"/>
<circle cx="262.8" cy="325.6" r="2.8" fill="#fff" stroke="#EDE26A" stroke-width="1.6"/>
<line x1="270.9" y1="335" x2="270.9" y2="372" stroke="#9A6CC4" stroke-width="2.2"/>
<circle cx="270.9" cy="335" r="2.8" fill="#fff" stroke="#9A6CC4" stroke-width="1.6"/>
<line x1="272.5" y1="338" x2="272.5" y2="372" stroke="#E05050" stroke-width="2.2"/>
<circle cx="272.5" cy="338" r="2.8" fill="#fff" stroke="#E05050" stroke-width="1.6"/>
<line x1="350" y1="310" x2="350" y2="372" stroke="#EDE26A" stroke-width="2.2"/>
<circle cx="350" cy="310" r="2.8" fill="#fff" stroke="#EDE26A" stroke-width="1.6"/>
<line x1="391.3" y1="260.3" x2="391.3" y2="372" stroke="#3A2F70" stroke-width="2.2"/>
<circle cx="391.3" cy="260.3" r="2.8" fill="#fff" stroke="#3A2F70" stroke-width="1.6"/>
<line x1="416" y1="326.6" x2="416" y2="372" stroke="#E05050" stroke-width="2.2"/>
<circle cx="416" cy="326.6" r="2.8" fill="#fff" stroke="#E05050" stroke-width="1.6"/>
<line x1="358" y1="340" x2="358" y2="372" stroke="#9A6CC4" stroke-width="2.2"/>
<circle cx="358" cy="340" r="2.8" fill="#fff" stroke="#9A6CC4" stroke-width="1.6"/>
<line x1="371.6" y1="340" x2="371.6" y2="372" stroke="#9A6CC4" stroke-width="2.2"/>
<circle cx="371.6" cy="340" r="2.8" fill="#fff" stroke="#9A6CC4" stroke-width="1.6"/>
<line x1="323.8" y1="347.5" x2="323.8" y2="372" stroke="#6A2628" stroke-width="2.2"/>
<circle cx="323.8" cy="347.5" r="2.8" fill="#fff" stroke="#6A2628" stroke-width="1.6"/>
<line x1="335.6" y1="345" x2="335.6" y2="372" stroke="#6A2628" stroke-width="2.2"/>
<circle cx="335.6" cy="345" r="2.8" fill="#fff" stroke="#6A2628" stroke-width="1.6"/>
<line x1="445.3" y1="245.6" x2="445.3" y2="372" stroke="#EDE26A" stroke-width="2.2"/>
<circle cx="445.3" cy="245.6" r="2.8" fill="#fff" stroke="#EDE26A" stroke-width="1.6"/>
<line x1="457.5" y1="265.6" x2="457.5" y2="372" stroke="#45201F" stroke-width="2.2"/>
<circle cx="457.5" cy="265.6" r="2.8" fill="#fff" stroke="#45201F" stroke-width="1.6"/>
<line x1="467.5" y1="281.3" x2="467.5" y2="372" stroke="#E05050" stroke-width="2.2"/>
<circle cx="467.5" cy="281.3" r="2.8" fill="#fff" stroke="#E05050" stroke-width="1.6"/>
<line x1="525" y1="246.3" x2="525" y2="372" stroke="#6CBF5A" stroke-width="2.2"/>
<circle cx="525" cy="246.3" r="2.8" fill="#fff" stroke="#6CBF5A" stroke-width="1.6"/>
<line x1="453" y1="304.7" x2="453" y2="372" stroke="#EDE26A" stroke-width="2.2"/>
<circle cx="453" cy="304.7" r="2.8" fill="#fff" stroke="#EDE26A" stroke-width="1.6"/>
<line x1="470.3" y1="308.8" x2="470.3" y2="372" stroke="#2F7A35" stroke-width="2.2"/>
<circle cx="470.3" cy="308.8" r="2.8" fill="#fff" stroke="#2F7A35" stroke-width="1.6"/>
<line x1="464.4" y1="315" x2="464.4" y2="372" stroke="#9A6CC4" stroke-width="2.2"/>
<circle cx="464.4" cy="315" r="2.8" fill="#fff" stroke="#9A6CC4" stroke-width="1.6"/>
<line x1="436.9" y1="318.8" x2="436.9" y2="372" stroke="#E05050" stroke-width="2.2"/>
<circle cx="436.9" cy="318.8" r="2.8" fill="#fff" stroke="#E05050" stroke-width="1.6"/>
<line x1="416.5" y1="326.6" x2="416.5" y2="372" stroke="#E05050" stroke-width="2.2"/>
<circle cx="416.5" cy="326.6" r="2.8" fill="#fff" stroke="#E05050" stroke-width="1.6"/>
<line x1="430" y1="325" x2="430" y2="372" stroke="#EDE26A" stroke-width="2.2"/>
<circle cx="430" cy="325" r="2.8" fill="#fff" stroke="#EDE26A" stroke-width="1.6"/>
<line x1="482" y1="318" x2="482" y2="372" stroke="#EDE26A" stroke-width="2.2"/>
<circle cx="482" cy="318" r="2.8" fill="#fff" stroke="#EDE26A" stroke-width="1.6"/>
<line x1="478.4" y1="322" x2="478.4" y2="372" stroke="#E05050" stroke-width="2.2"/>
<circle cx="478.4" cy="322" r="2.8" fill="#fff" stroke="#E05050" stroke-width="1.6"/>
<line x1="494.7" y1="315.6" x2="494.7" y2="372" stroke="#9A6CC4" stroke-width="2.2"/>
<circle cx="494.7" cy="315.6" r="2.8" fill="#fff" stroke="#9A6CC4" stroke-width="1.6"/>
<line x1="498.8" y1="321.3" x2="498.8" y2="372" stroke="#EDE26A" stroke-width="2.2"/>
<circle cx="498.8" cy="321.3" r="2.8" fill="#fff" stroke="#EDE26A" stroke-width="1.6"/>
<line x1="493" y1="327.5" x2="493" y2="372" stroke="#6A2628" stroke-width="2.2"/>
<circle cx="493" cy="327.5" r="2.8" fill="#fff" stroke="#6A2628" stroke-width="1.6"/>
<line x1="518" y1="313" x2="518" y2="372" stroke="#E05050" stroke-width="2.2"/>
<circle cx="518" cy="313" r="2.8" fill="#fff" stroke="#E05050" stroke-width="1.6"/>
<line x1="520" y1="326.6" x2="520" y2="372" stroke="#3A2F70" stroke-width="2.2"/>
<circle cx="520" cy="326.6" r="2.8" fill="#fff" stroke="#3A2F70" stroke-width="1.6"/>
<line x1="441.6" y1="333.8" x2="441.6" y2="372" stroke="#6CBF5A" stroke-width="2.2"/>
<circle cx="441.6" cy="333.8" r="2.8" fill="#fff" stroke="#6CBF5A" stroke-width="1.6"/>
<line x1="606.9" y1="252.5" x2="606.9" y2="372" stroke="#E05050" stroke-width="2.2"/>
<circle cx="606.9" cy="252.5" r="2.8" fill="#fff" stroke="#E05050" stroke-width="1.6"/>
<line x1="598.1" y1="310.3" x2="598.1" y2="372" stroke="#3A2F70" stroke-width="2.2"/>
<circle cx="598.1" cy="310.3" r="2.8" fill="#fff" stroke="#3A2F70" stroke-width="1.6"/>
<line x1="575" y1="335.3" x2="575" y2="372" stroke="#6A2628" stroke-width="2.2"/>
<circle cx="575" cy="335.3" r="2.8" fill="#fff" stroke="#6A2628" stroke-width="1.6"/>
<line x1="584.4" y1="341.3" x2="584.4" y2="372" stroke="#3A2F70" stroke-width="2.2"/>
<circle cx="584.4" cy="341.3" r="2.8" fill="#fff" stroke="#3A2F70" stroke-width="1.6"/>
<line x1="541.3" y1="342" x2="541.3" y2="372" stroke="#9A6CC4" stroke-width="2.2"/>
<circle cx="541.3" cy="342" r="2.8" fill="#fff" stroke="#9A6CC4" stroke-width="1.6"/>
<line x1="566" y1="347.5" x2="566" y2="372" stroke="#E05050" stroke-width="2.2"/>
<circle cx="566" cy="347.5" r="2.8" fill="#fff" stroke="#E05050" stroke-width="1.6"/>
<line x1="612.5" y1="346" x2="612.5" y2="372" stroke="#EDE26A" stroke-width="2.2"/>
<circle cx="612.5" cy="346" r="2.8" fill="#fff" stroke="#EDE26A" stroke-width="1.6"/>
<line x1="621.9" y1="332.2" x2="621.9" y2="372" stroke="#9A6CC4" stroke-width="2.2"/>
<circle cx="621.9" cy="332.2" r="2.8" fill="#fff" stroke="#9A6CC4" stroke-width="1.6"/>
<line x1="618.8" y1="341.3" x2="618.8" y2="372" stroke="#2F7A35" stroke-width="2.2"/>
<circle cx="618.8" cy="341.3" r="2.8" fill="#fff" stroke="#2F7A35" stroke-width="1.6"/>
<line x1="434.5" y1="334" x2="434.5" y2="372" stroke="#E05050" stroke-width="2.2"/>
<circle cx="434.5" cy="334" r="2.8" fill="#fff" stroke="#E05050" stroke-width="1.6"/>
<line x1="428.6" y1="342.8" x2="428.6" y2="372" stroke="#EDE26A" stroke-width="2.2"/>
<circle cx="428.6" cy="342.8" r="2.8" fill="#fff" stroke="#EDE26A" stroke-width="1.6"/>
<line x1="450.9" y1="319.6" x2="450.9" y2="372" stroke="#EDE26A" stroke-width="2.2"/>
<circle cx="450.9" cy="319.6" r="2.8" fill="#fff" stroke="#EDE26A" stroke-width="1.6"/>
<line x1="453.6" y1="304.5" x2="453.6" y2="372" stroke="#EDE26A" stroke-width="2.2"/>
<circle cx="453.6" cy="304.5" r="2.8" fill="#fff" stroke="#EDE26A" stroke-width="1.6"/>
<line x1="464.6" y1="342" x2="464.6" y2="372" stroke="#45201F" stroke-width="2.2"/>
<circle cx="464.6" cy="342" r="2.8" fill="#fff" stroke="#45201F" stroke-width="1.6"/>
<line x1="476.8" y1="322.3" x2="476.8" y2="372" stroke="#E05050" stroke-width="2.2"/>
<circle cx="476.8" cy="322.3" r="2.8" fill="#fff" stroke="#E05050" stroke-width="1.6"/>
<line x1="410" y1="346" x2="410" y2="372" stroke="#6A2628" stroke-width="2.2"/>
<circle cx="410" cy="346" r="2.8" fill="#fff" stroke="#6A2628" stroke-width="1.6"/>
<line x1="413" y1="353" x2="413" y2="372" stroke="#9A6CC4" stroke-width="2.2"/>
<circle cx="413" cy="353" r="2.8" fill="#fff" stroke="#9A6CC4" stroke-width="1.6"/>
<line x1="416" y1="338" x2="416" y2="372" stroke="#E05050" stroke-width="2.2"/>
<circle cx="416" cy="338" r="2.8" fill="#fff" stroke="#E05050" stroke-width="1.6"/>
<polygon points="91.0,364.4 95.0,364.3 99.0,363.0 103.0,363.7 107.0,362.7 111.0,361.5 115.0,362.3 119.0,362.1 123.0,361.8 127.0,360.8 131.0,358.7 131.0,363.7 127.0,362.8 123.0,362.1 119.0,363.2 115.0,364.1 111.0,366.2 107.0,365.5 103.0,367.5 99.0,368.6 95.0,367.7 91.0,368.8" fill="#EFE27A"/>
<polygon points="270.0,356.4 274.0,356.7 278.0,356.2 282.0,357.4 286.0,355.2 290.0,357.0 294.0,357.0 298.0,357.2 302.0,357.3 306.0,355.5 310.0,356.4 314.0,356.3 318.0,354.6 322.0,355.9 326.0,355.2 330.0,355.7 334.0,353.9 338.0,354.8 342.0,353.2 346.0,352.5 350.0,352.2 354.0,351.8 358.0,353.2 362.0,352.8 366.0,352.4 370.0,354.1 374.0,354.8 378.0,353.9 382.0,353.0 386.0,354.0 390.0,354.0 394.0,353.3 398.0,352.8 402.0,352.7 406.0,353.0 410.0,352.2 414.0,351.2 418.0,352.1 422.0,351.8 426.0,351.1 430.0,351.4 434.0,352.7 438.0,353.8 442.0,351.9 446.0,353.3 450.0,352.4 454.0,353.6 458.0,354.3 462.0,352.8 466.0,353.1 470.0,353.0 474.0,351.9 478.0,353.5 482.0,353.4 486.0,354.1 490.0,352.1 494.0,351.4 498.0,353.0 502.0,351.9 506.0,351.5 510.0,350.9 514.0,352.2 518.0,351.2 522.0,350.1 526.0,349.4 530.0,351.4 534.0,349.8 538.0,349.2 542.0,349.4 546.0,350.1 550.0,351.1 554.0,352.0 558.0,350.9 562.0,351.0 566.0,350.0 570.0,350.2 574.0,348.8 578.0,350.3 582.0,350.5 586.0,351.0 590.0,351.8 594.0,352.2 598.0,352.9 602.0,352.5 606.0,350.5 610.0,350.2 614.0,350.9 618.0,349.8 622.0,350.1 622.0,355.0 618.0,356.8 614.0,355.6 610.0,356.0 606.0,354.4 602.0,353.4 598.0,354.2 594.0,354.8 590.0,354.1 586.0,353.6 582.0,353.8 578.0,354.4 574.0,354.5 570.0,354.8 566.0,353.3 562.0,354.5 558.0,355.5 554.0,356.7 550.0,356.8 546.0,356.5 542.0,356.5 538.0,355.5 534.0,355.5 530.0,354.9 526.0,355.3 522.0,354.0 518.0,355.2 514.0,357.2 510.0,356.6 506.0,355.5 502.0,355.3 498.0,356.0 494.0,355.0 490.0,356.9 486.0,356.8 482.0,356.1 478.0,355.4 474.0,356.3 470.0,355.8 466.0,356.8 462.0,358.2 458.0,356.9 454.0,357.6 450.0,355.7 446.0,356.9 442.0,357.4 438.0,356.1 434.0,357.4 430.0,355.9 426.0,357.7 422.0,356.1 418.0,356.6 414.0,356.4 410.0,357.4 406.0,359.0 402.0,359.0 398.0,357.7 394.0,359.0 390.0,358.7 386.0,358.3 382.0,357.7 378.0,357.9 374.0,358.7 370.0,358.7 366.0,357.0 362.0,357.6 358.0,358.1 354.0,357.7 350.0,358.1 346.0,360.1 342.0,359.8 338.0,359.4 334.0,358.0 330.0,357.2 326.0,357.9 322.0,359.5 318.0,359.3 314.0,358.6 310.0,359.3 306.0,358.9 302.0,361.0 298.0,360.0 294.0,359.5 290.0,360.2 286.0,360.2 282.0,360.3 278.0,360.9 274.0,359.6 270.0,360.2" fill="#EFE27A"/>
<g fill="#FFFDF0" stroke="#EDE052" stroke-width="1.8"><circle cx="91.1" cy="370.8" r="3.0"/><circle cx="93.3" cy="369.3" r="3.0"/><circle cx="96.0" cy="366.3" r="3.0"/><circle cx="98.3" cy="368.0" r="3.0"/><circle cx="101.7" cy="367.6" r="3.0"/><circle cx="103.9" cy="362.8" r="3.0"/><circle cx="106.3" cy="363.7" r="3.0"/><circle cx="108.9" cy="369.5" r="3.0"/><circle cx="112.2" cy="366.0" r="3.0"/><circle cx="114.7" cy="362.2" r="3.0"/><circle cx="116.4" cy="360.0" r="3.0"/><circle cx="118.8" cy="362.6" r="3.0"/><circle cx="123.0" cy="362.5" r="3.0"/><circle cx="124.6" cy="358.9" r="3.0"/><circle cx="127.6" cy="363.5" r="3.0"/><circle cx="130.0" cy="361.3" r="3.0"/><circle cx="132.0" cy="361.0" r="3.0"/><circle cx="135.5" cy="363.3" r="3.0"/><circle cx="148.0" cy="365.4" r="3.0"/><circle cx="151.2" cy="365.6" r="3.0"/><circle cx="169.2" cy="363.5" r="3.0"/><circle cx="171.1" cy="364.4" r="3.0"/><circle cx="181.6" cy="357.6" r="3.0"/><circle cx="187.8" cy="365.1" r="3.0"/><circle cx="192.6" cy="357.9" r="3.0"/><circle cx="194.4" cy="360.9" r="3.0"/><circle cx="197.2" cy="358.5" r="3.0"/><circle cx="215.1" cy="357.3" r="3.0"/><circle cx="221.7" cy="357.8" r="3.0"/><circle cx="223.8" cy="361.4" r="3.0"/><circle cx="226.0" cy="359.9" r="3.0"/><circle cx="243.8" cy="363.1" r="3.0"/><circle cx="257.7" cy="363.6" r="3.0"/><circle cx="260.7" cy="359.0" r="3.0"/><circle cx="262.6" cy="362.2" r="3.0"/><circle cx="264.8" cy="362.0" r="3.0"/><circle cx="268.1" cy="358.3" r="3.0"/><circle cx="270.4" cy="357.5" r="3.0"/><circle cx="273.5" cy="359.0" r="3.0"/><circle cx="275.7" cy="361.7" r="3.0"/><circle cx="278.1" cy="356.1" r="3.0"/><circle cx="283.9" cy="359.7" r="3.0"/><circle cx="286.1" cy="357.1" r="3.0"/><circle cx="288.1" cy="357.7" r="3.0"/><circle cx="291.4" cy="357.3" r="3.0"/><circle cx="294.3" cy="361.3" r="3.0"/><circle cx="296.4" cy="355.8" r="3.0"/><circle cx="299.1" cy="358.2" r="3.0"/><circle cx="301.6" cy="356.0" r="3.0"/><circle cx="306.1" cy="356.7" r="3.0"/><circle cx="309.2" cy="359.5" r="3.0"/><circle cx="312.8" cy="356.8" r="3.0"/><circle cx="320.3" cy="354.4" r="3.0"/><circle cx="324.7" cy="361.8" r="3.0"/><circle cx="326.9" cy="353.7" r="3.0"/><circle cx="329.7" cy="359.1" r="3.0"/><circle cx="333.3" cy="362.1" r="3.0"/><circle cx="335.9" cy="361.4" r="3.0"/><circle cx="338.0" cy="362.2" r="3.0"/><circle cx="343.3" cy="353.3" r="3.0"/><circle cx="346.5" cy="358.1" r="3.0"/><circle cx="347.8" cy="358.6" r="3.0"/><circle cx="351.2" cy="360.4" r="3.0"/><circle cx="352.8" cy="353.7" r="3.0"/><circle cx="355.5" cy="354.9" r="3.0"/><circle cx="359.3" cy="357.4" r="3.0"/><circle cx="361.4" cy="354.0" r="3.0"/><circle cx="366.2" cy="357.6" r="3.0"/><circle cx="369.4" cy="353.7" r="3.0"/><circle cx="372.2" cy="360.8" r="3.0"/><circle cx="374.0" cy="359.8" r="3.0"/><circle cx="377.6" cy="354.1" r="3.0"/><circle cx="379.6" cy="354.3" r="3.0"/><circle cx="381.6" cy="360.3" r="3.0"/><circle cx="385.0" cy="354.5" r="3.0"/><circle cx="387.2" cy="359.8" r="3.0"/><circle cx="389.8" cy="355.1" r="3.0"/><circle cx="392.8" cy="359.9" r="3.0"/><circle cx="395.8" cy="360.0" r="3.0"/><circle cx="397.0" cy="352.6" r="3.0"/><circle cx="399.9" cy="355.3" r="3.0"/><circle cx="403.1" cy="358.9" r="3.0"/><circle cx="405.1" cy="357.1" r="3.0"/><circle cx="408.1" cy="358.4" r="3.0"/><circle cx="411.1" cy="355.3" r="3.0"/><circle cx="413.5" cy="354.1" r="3.0"/><circle cx="415.4" cy="352.5" r="3.0"/><circle cx="419.3" cy="357.3" r="3.0"/><circle cx="421.9" cy="353.5" r="3.0"/><circle cx="423.1" cy="360.3" r="3.0"/><circle cx="426.9" cy="355.0" r="3.0"/><circle cx="429.0" cy="359.9" r="3.0"/><circle cx="431.2" cy="359.7" r="3.0"/><circle cx="434.6" cy="360.0" r="3.0"/><circle cx="436.2" cy="358.8" r="3.0"/><circle cx="440.2" cy="354.8" r="3.0"/><circle cx="441.4" cy="360.4" r="3.0"/><circle cx="443.8" cy="355.9" r="3.0"/><circle cx="450.5" cy="360.3" r="3.0"/><circle cx="451.9" cy="352.6" r="3.0"/><circle cx="454.2" cy="353.2" r="3.0"/><circle cx="457.5" cy="354.9" r="3.0"/><circle cx="459.6" cy="358.1" r="3.0"/><circle cx="462.8" cy="353.1" r="3.0"/><circle cx="464.8" cy="354.6" r="3.0"/><circle cx="467.4" cy="358.5" r="3.0"/><circle cx="470.9" cy="352.7" r="3.0"/><circle cx="474.0" cy="353.1" r="3.0"/><circle cx="476.5" cy="354.7" r="3.0"/><circle cx="478.6" cy="353.9" r="3.0"/><circle cx="483.9" cy="357.1" r="3.0"/><circle cx="486.9" cy="359.2" r="3.0"/><circle cx="488.1" cy="351.3" r="3.0"/><circle cx="491.6" cy="359.2" r="3.0"/><circle cx="493.8" cy="354.4" r="3.0"/><circle cx="497.2" cy="351.5" r="3.0"/><circle cx="498.7" cy="360.6" r="3.0"/><circle cx="502.6" cy="351.8" r="3.0"/><circle cx="503.9" cy="361.2" r="3.0"/><circle cx="506.5" cy="357.4" r="3.0"/><circle cx="509.4" cy="354.3" r="3.0"/><circle cx="511.6" cy="355.5" r="3.0"/><circle cx="514.8" cy="353.2" r="3.0"/><circle cx="517.1" cy="348.2" r="3.0"/><circle cx="520.4" cy="353.0" r="3.0"/><circle cx="522.0" cy="357.3" r="3.0"/><circle cx="525.9" cy="354.6" r="3.0"/><circle cx="527.5" cy="355.8" r="3.0"/><circle cx="532.6" cy="355.4" r="3.0"/><circle cx="536.2" cy="349.7" r="3.0"/><circle cx="538.3" cy="353.6" r="3.0"/><circle cx="540.0" cy="349.5" r="3.0"/><circle cx="543.1" cy="359.6" r="3.0"/><circle cx="545.2" cy="358.1" r="3.0"/><circle cx="549.2" cy="346.9" r="3.0"/><circle cx="551.7" cy="350.3" r="3.0"/><circle cx="554.2" cy="357.6" r="3.0"/><circle cx="555.9" cy="351.6" r="3.0"/><circle cx="558.6" cy="358.2" r="3.0"/><circle cx="561.8" cy="352.6" r="3.0"/><circle cx="564.2" cy="353.0" r="3.0"/><circle cx="567.1" cy="357.1" r="3.0"/><circle cx="569.4" cy="356.0" r="3.0"/><circle cx="572.5" cy="347.1" r="3.0"/><circle cx="575.1" cy="351.8" r="3.0"/><circle cx="577.1" cy="349.0" r="3.0"/><circle cx="579.7" cy="357.6" r="3.0"/><circle cx="583.2" cy="347.3" r="3.0"/><circle cx="584.4" cy="353.3" r="3.0"/><circle cx="587.4" cy="358.5" r="3.0"/><circle cx="590.0" cy="353.9" r="3.0"/><circle cx="592.8" cy="351.0" r="3.0"/><circle cx="596.1" cy="353.8" r="3.0"/><circle cx="597.3" cy="347.4" r="3.0"/><circle cx="601.2" cy="358.9" r="3.0"/><circle cx="603.7" cy="352.4" r="3.0"/><circle cx="606.2" cy="353.6" r="3.0"/><circle cx="608.8" cy="349.7" r="3.0"/><circle cx="610.6" cy="357.6" r="3.0"/><circle cx="613.3" cy="357.0" r="3.0"/><circle cx="615.8" cy="349.1" r="3.0"/><circle cx="618.4" cy="352.5" r="3.0"/><circle cx="620.9" cy="359.1" r="3.0"/></g>
<polyline points="91.0,370.7 103.0,366.7 115.0,367.0 127.0,363.2 139.0,362.6 151.0,364.1 163.0,362.6 175.0,362.4 187.0,360.8 199.0,363.0 211.0,364.2 223.0,361.4 235.0,359.7 247.0,360.2 259.0,360.4 271.0,361.4 283.0,360.0 295.0,360.1 307.0,358.3 319.0,357.4 331.0,356.3 343.0,357.5 355.0,358.0 367.0,358.3 379.0,359.7 391.0,357.8 403.0,356.9 415.0,356.9 427.0,358.7 439.0,357.0 451.0,355.9 463.0,355.9 475.0,356.8 487.0,355.6 499.0,354.4 511.0,355.9 523.0,355.7 535.0,355.4 547.0,352.8 559.0,352.2 571.0,351.7 583.0,352.6 595.0,355.3 607.0,357.1 619.0,357.5" fill="none" stroke="#E8DC60" stroke-width="1.5"/>
<g fill="#FFF6B0" stroke="#EBDB3E" stroke-width="1.8"><circle cx="92" cy="382" r="2.8"/><circle cx="95" cy="385" r="2.8"/><circle cx="98" cy="383" r="2.8"/><circle cx="92" cy="387" r="2.8"/></g>
<g fill="#F3EFE6" stroke="#B89A3A" stroke-width="1.8"><circle cx="92" cy="396" r="2.8"/><circle cx="95" cy="399" r="2.8"/><circle cx="98" cy="402" r="2.8"/><circle cx="93" cy="403" r="2.8"/></g>
<circle cx="91" cy="391" r="2.6" fill="#fff" stroke="#3B2F70" stroke-width="1.8"/>
<polyline points="140,359 200,358 230,357" fill="none" stroke="#E05050" stroke-width="1.5"/>
<circle cx="101.3" cy="280.5" r="2.6" fill="#fff" stroke="#EDE26A" stroke-width="1.6"/>
<circle cx="101.3" cy="284.5" r="2.6" fill="#fff" stroke="#EDE26A" stroke-width="1.6"/>
<circle cx="101.3" cy="295" r="2.6" fill="#fff" stroke="#C9A23A" stroke-width="1.6"/>
<circle cx="101.3" cy="302" r="2.6" fill="#fff" stroke="#45201F" stroke-width="1.6"/>
<circle cx="101.3" cy="311" r="2.6" fill="#fff" stroke="#E05050" stroke-width="1.6"/>
<circle cx="101.3" cy="320.7" r="2.6" fill="#fff" stroke="#E05050" stroke-width="1.6"/>
<circle cx="101.3" cy="327.4" r="2.6" fill="#fff" stroke="#4F9A45" stroke-width="1.6"/>
<circle cx="101.3" cy="336" r="2.6" fill="#fff" stroke="#EDE26A" stroke-width="1.6"/>
<circle cx="101.3" cy="344" r="2.6" fill="#fff" stroke="#45201F" stroke-width="1.6"/>
<circle cx="101.3" cy="352" r="2.6" fill="#fff" stroke="#E05050" stroke-width="1.6"/>
<circle cx="101.3" cy="358" r="2.6" fill="#fff" stroke="#4F9A45" stroke-width="1.6"/>
<circle cx="111.4" cy="328.7" r="2.6" fill="#fff" stroke="#E05050" stroke-width="1.6"/>
<circle cx="112" cy="338" r="2.6" fill="#fff" stroke="#E05050" stroke-width="1.6"/>
<circle cx="116.8" cy="332.7" r="2.6" fill="#fff" stroke="#EDE26A" stroke-width="1.6"/>
<circle cx="118" cy="348.8" r="2.6" fill="#fff" stroke="#EDE26A" stroke-width="1.6"/>
<circle cx="130.2" cy="336" r="2.6" fill="#fff" stroke="#E05050" stroke-width="1.6"/>
<circle cx="127.5" cy="347.5" r="2.6" fill="#fff" stroke="#E05050" stroke-width="1.6"/>
<circle cx="134.2" cy="325.2" r="2.6" fill="#fff" stroke="#EDE26A" stroke-width="1.6"/>
<circle cx="137" cy="334.9" r="2.6" fill="#fff" stroke="#EDE26A" stroke-width="1.6"/>
<circle cx="121.5" cy="303" r="2.6" fill="#fff" stroke="#8E2636" stroke-width="1.6"/>
<polyline points="109.4,325 111.4,328.7 112,338 110,350 113,360" fill="none" stroke="#E05050" stroke-width="1.4"/>
<polyline points="128.8,331 130.2,336 127.5,347.5 129,360" fill="none" stroke="#E05050" stroke-width="1.4"/>
<polyline points="117.8,326.6 116.8,332.7 118,348.8 117,360" fill="none" stroke="#EDE26A" stroke-width="1.4"/>
<polyline points="135.6,313 134.2,325.2 137,334.9 135,360" fill="none" stroke="#EDE26A" stroke-width="1.4"/>
<polyline points="138,365 177.5,300.6 177.5,353" fill="none" stroke="#EDE26A" stroke-width="1.6"/>
<polyline points="391.3,260.3 398,355" fill="none" stroke="#3A2F70" stroke-width="1.6"/>
<line x1="392.5" y1="276.6" x2="392.5" y2="355" stroke="#2F6A35" stroke-width="1.8"/>
<circle cx="392.5" cy="276.6" r="2.6" fill="#fff" stroke="#2F6A35" stroke-width="1.6"/>
<circle cx="598.1" cy="326.9" r="2.6" fill="#fff" stroke="#9A6CC4" stroke-width="1.6"/>
<line x1="123.1" y1="307" x2="123.1" y2="414" stroke="#9A6CC4" stroke-width="2.0"/>
<line x1="101.3" y1="272.5" x2="101.3" y2="420" stroke="#9A6CC4" stroke-width="2.4"/>
<polyline points="100.3,300 100.3,419 91,419" fill="none" stroke="#E05050" stroke-width="1.2"/>
</g>
  <line x1="89.6" y1="223" x2="89.6" y2="428.5" stroke="#7a7a7a" stroke-width="2.4"/>
  <g font-family="Liberation Sans" font-size="10" fill="#757575" text-anchor="end">
    <text x="86.3" y="236">3000</text>
    <text x="86.3" y="268">2500</text>
    <text x="86.3" y="300">2000</text>
    <text x="86.3" y="332">1500</text>
    <text x="86.3" y="364">1000</text>
    <text x="86.3" y="397">500</text>
    <text x="86.3" y="429">0</text>
  </g>
  <g font-family="Liberation Sans" font-size="10" fill="#757575" text-anchor="middle">
    <text x="101.5" y="440">28 00:00</text>
    <text x="184.3" y="440">28 01:00</text>
    <text x="267.1" y="440">28 02:00</text>
    <text x="350" y="440">28 03:00</text>
    <text x="432.8" y="440">28 04:00</text>
    <text x="515.7" y="440">28 05:00</text>
    <text x="598.5" y="440">28 06:00</text>
  </g>
</svg>
<svg width="700" height="448" style="position:absolute;left:0;top:0"><g fill="#000"><path d="M0,0 L7,0 Q2.5,1.2 0,4.7 Z"/><path d="M690.7,0 L700,0 L700,8 Q696.5,2.5 690.7,0 Z"/><path d="M691.2,448 L700,448 L700,440 Q696.5,445.5 691.2,448 Z"/><path d="M0,443 L0,448 L7,448 Q2.5,446.8 0,443 Z"/></g></svg></body></html>
